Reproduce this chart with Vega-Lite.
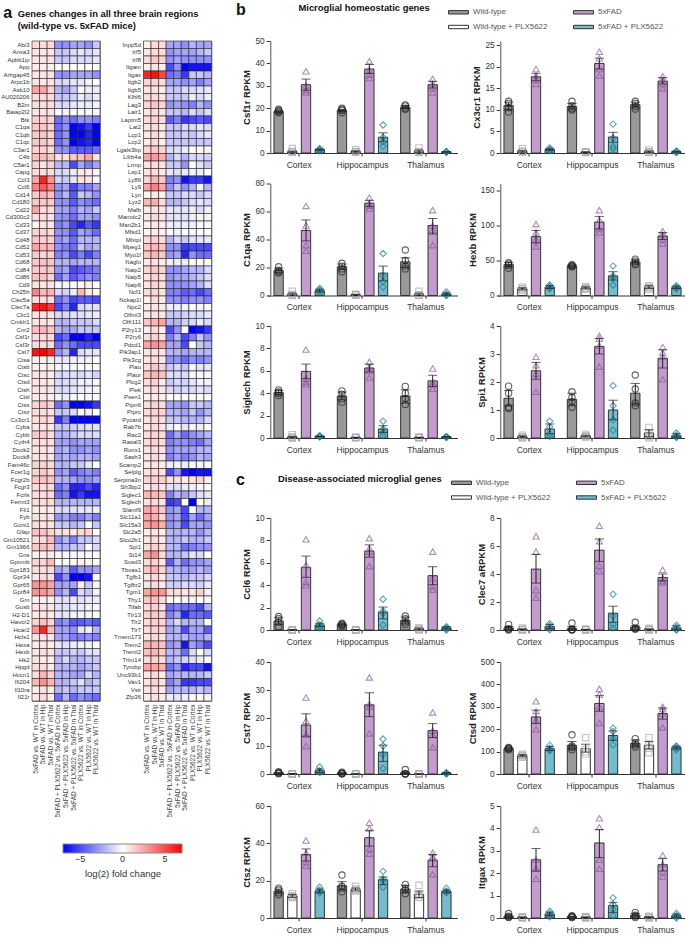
{"$schema":"https://vega.github.io/schema/vega-lite/v6.json","padding":{"left":0,"top":1,"right":0,"bottom":0},"background":"white",
"config":{"font":"Liberation Sans","view":{"stroke":null},"title":{"font":"Liberation Sans","fontWeight":"bold","fontSize":9.4,"color":"#111","anchor":"start"},
"axisX":{"grid":false,"labelAngle":0,"labelFontSize":8.5,"labelColor":"#333","domainColor":"#333","tickColor":"#333","tickSize":3,"labelPadding":4},
"axisY":{"grid":false,"labelFontSize":8.3,"labelColor":"#333","domainColor":"#888","domainWidth":1.5,"tickColor":"#333","tickSize":4,"labelPadding":2,"offset":-2.7,"titleFontSize":9.5,"titleFontWeight":"bold","titleColor":"#222","titlePadding":3},
"legend":{"orient":"none","legendX":180.5,"legendY":-39.5,"columns":2,"columnPadding":23,"rowPadding":-10,"labelFontSize":7.9,"labelColor":"#555","symbolType":"M-1,-0.17H1V0.17H-1Z","symbolSize":400,"symbolStrokeColor":"#333","symbolStrokeWidth":1,"labelOffset":4},
"scale":{"bandWithNestedOffsetPaddingInner":0.135,"bandWithNestedOffsetPaddingOuter":0.0675,"offsetBandPaddingInner":0.32,"offsetBandPaddingOuter":0.16},
"bar":{"stroke":"#333","strokeWidth":1},"point":{"size":40,"strokeWidth":1.1,"filled":false},"tick":{"color":"#222","bandSize":4,"thickness":1},"rule":{"color":"#222"},
"range":{"category":["#999999","#ffffff","#c39bcf","#72bccd"],"ordinal":["#222222","#aaaaaa","#8e5ca0","#1b7f94"],"symbol":["circle","square","triangle-up","diamond"]}},
"datasets":{
"h1":[{"g":"Abi3","c":1,"v":1},{"g":"Abi3","c":2,"v":1},{"g":"Abi3","c":3,"v":1},{"g":"Abi3","c":4,"v":-3},{"g":"Abi3","c":5,"v":-3},{"g":"Abi3","c":6,"v":-2.5},{"g":"Abi3","c":7,"v":-2.5},{"g":"Abi3","c":8,"v":-3},{"g":"Abi3","c":9,"v":-1.5},
{"g":"Anxa3","c":1,"v":0.7},{"g":"Anxa3","c":2,"v":0.7},{"g":"Anxa3","c":3,"v":0.7},{"g":"Anxa3","c":4,"v":-1.5},{"g":"Anxa3","c":5,"v":-1.5},{"g":"Anxa3","c":6,"v":-1},{"g":"Anxa3","c":7,"v":-0.7},{"g":"Anxa3","c":8,"v":-1},{"g":"Anxa3","c":9,"v":-0.7},
{"g":"Apbb1ip","c":1,"v":0.7},{"g":"Apbb1ip","c":2,"v":0.7},{"g":"Apbb1ip","c":3,"v":0.7},{"g":"Apbb1ip","c":4,"v":-1.5},{"g":"Apbb1ip","c":5,"v":-1.5},{"g":"Apbb1ip","c":6,"v":-1},{"g":"Apbb1ip","c":7,"v":-1},{"g":"Apbb1ip","c":8,"v":-1},{"g":"Apbb1ip","c":9,"v":-0.7},
{"g":"App","c":1,"v":0.5},{"g":"App","c":2,"v":0.5},{"g":"App","c":3,"v":0.4},{"g":"App","c":4,"v":-0.1},{"g":"App","c":5,"v":0.2},{"g":"App","c":6,"v":0},{"g":"App","c":7,"v":0},{"g":"App","c":8,"v":0},{"g":"App","c":9,"v":0},
{"g":"Arhgap45","c":1,"v":0.7},{"g":"Arhgap45","c":2,"v":0.7},{"g":"Arhgap45","c":3,"v":0.7},{"g":"Arhgap45","c":4,"v":-3},{"g":"Arhgap45","c":5,"v":-3},{"g":"Arhgap45","c":6,"v":-2.5},{"g":"Arhgap45","c":7,"v":-2.5},{"g":"Arhgap45","c":8,"v":-2.5},{"g":"Arhgap45","c":9,"v":-3},
{"g":"Arpc1b","c":1,"v":0.7},{"g":"Arpc1b","c":2,"v":0.6},{"g":"Arpc1b","c":3,"v":0.7},{"g":"Arpc1b","c":4,"v":-1},{"g":"Arpc1b","c":5,"v":-1},{"g":"Arpc1b","c":6,"v":-0.7},{"g":"Arpc1b","c":7,"v":-0.7},{"g":"Arpc1b","c":8,"v":-0.3},{"g":"Arpc1b","c":9,"v":0},
{"g":"Asb10","c":1,"v":2.5},{"g":"Asb10","c":2,"v":2.5},{"g":"Asb10","c":3,"v":1.2},{"g":"Asb10","c":4,"v":-2},{"g":"Asb10","c":5,"v":-2.5},{"g":"Asb10","c":6,"v":-1.5},{"g":"Asb10","c":7,"v":0},{"g":"Asb10","c":8,"v":-0.5},{"g":"Asb10","c":9,"v":-0.5},
{"g":"AU020206","c":1,"v":1},{"g":"AU020206","c":2,"v":1},{"g":"AU020206","c":3,"v":1},{"g":"AU020206","c":4,"v":-1.5},{"g":"AU020206","c":5,"v":-1.5},{"g":"AU020206","c":6,"v":-1.2},{"g":"AU020206","c":7,"v":-0.5},{"g":"AU020206","c":8,"v":-1},{"g":"AU020206","c":9,"v":-0.5},
{"g":"B2m","c":1,"v":0.9},{"g":"B2m","c":2,"v":0.9},{"g":"B2m","c":3,"v":0.9},{"g":"B2m","c":4,"v":-1},{"g":"B2m","c":5,"v":-1},{"g":"B2m","c":6,"v":-0.7},{"g":"B2m","c":7,"v":-0.5},{"g":"B2m","c":8,"v":-0.5},{"g":"B2m","c":9,"v":-0.3},
{"g":"Baiap2l2","c":1,"v":0.7},{"g":"Baiap2l2","c":2,"v":0.7},{"g":"Baiap2l2","c":3,"v":0.7},{"g":"Baiap2l2","c":4,"v":0},{"g":"Baiap2l2","c":5,"v":-0.3},{"g":"Baiap2l2","c":6,"v":-0.2},{"g":"Baiap2l2","c":7,"v":0.2},{"g":"Baiap2l2","c":8,"v":0.2},{"g":"Baiap2l2","c":9,"v":-0.2},
{"g":"Btk","c":1,"v":1.3},{"g":"Btk","c":2,"v":1.2},{"g":"Btk","c":3,"v":1.2},{"g":"Btk","c":4,"v":-4},{"g":"Btk","c":5,"v":-3},{"g":"Btk","c":6,"v":-4},{"g":"Btk","c":7,"v":-3},{"g":"Btk","c":8,"v":-3},{"g":"Btk","c":9,"v":-3.5},
{"g":"C1qa","c":1,"v":1.5},{"g":"C1qa","c":2,"v":1.5},{"g":"C1qa","c":3,"v":1.2},{"g":"C1qa","c":4,"v":-4},{"g":"C1qa","c":5,"v":-3},{"g":"C1qa","c":6,"v":-7},{"g":"C1qa","c":7,"v":-6.5},{"g":"C1qa","c":8,"v":-5.5},{"g":"C1qa","c":9,"v":-7},
{"g":"C1qb","c":1,"v":1.5},{"g":"C1qb","c":2,"v":1.5},{"g":"C1qb","c":3,"v":1.2},{"g":"C1qb","c":4,"v":-4},{"g":"C1qb","c":5,"v":-3},{"g":"C1qb","c":6,"v":-7},{"g":"C1qb","c":7,"v":-7},{"g":"C1qb","c":8,"v":-6},{"g":"C1qb","c":9,"v":-7},
{"g":"C1qc","c":1,"v":1.5},{"g":"C1qc","c":2,"v":1.5},{"g":"C1qc","c":3,"v":1.2},{"g":"C1qc","c":4,"v":-4},{"g":"C1qc","c":5,"v":-3},{"g":"C1qc","c":6,"v":-7},{"g":"C1qc","c":7,"v":-6.5},{"g":"C1qc","c":8,"v":-6},{"g":"C1qc","c":9,"v":-7},
{"g":"C3ar1","c":1,"v":1.2},{"g":"C3ar1","c":2,"v":1.2},{"g":"C3ar1","c":3,"v":1},{"g":"C3ar1","c":4,"v":-3},{"g":"C3ar1","c":5,"v":-3},{"g":"C3ar1","c":6,"v":-4.5},{"g":"C3ar1","c":7,"v":-4.5},{"g":"C3ar1","c":8,"v":-4.5},{"g":"C3ar1","c":9,"v":-4},
{"g":"C4b","c":1,"v":1.8},{"g":"C4b","c":2,"v":1.8},{"g":"C4b","c":3,"v":1.5},{"g":"C4b","c":4,"v":0.8},{"g":"C4b","c":5,"v":0.8},{"g":"C4b","c":6,"v":1.5},{"g":"C4b","c":7,"v":1.7},{"g":"C4b","c":8,"v":2.5},{"g":"C4b","c":9,"v":0.8},
{"g":"C5ar1","c":1,"v":1.2},{"g":"C5ar1","c":2,"v":0.8},{"g":"C5ar1","c":3,"v":1.2},{"g":"C5ar1","c":4,"v":-2},{"g":"C5ar1","c":5,"v":-2},{"g":"C5ar1","c":6,"v":-5},{"g":"C5ar1","c":7,"v":-2.5},{"g":"C5ar1","c":8,"v":-3.5},{"g":"C5ar1","c":9,"v":-2.5},
{"g":"Capg","c":1,"v":1},{"g":"Capg","c":2,"v":1},{"g":"Capg","c":3,"v":0.9},{"g":"Capg","c":4,"v":-1},{"g":"Capg","c":5,"v":-1},{"g":"Capg","c":6,"v":-0.5},{"g":"Capg","c":7,"v":0.5},{"g":"Capg","c":8,"v":0.5},{"g":"Capg","c":9,"v":-0.3},
{"g":"Ccl3","c":1,"v":2.5},{"g":"Ccl3","c":2,"v":6},{"g":"Ccl3","c":3,"v":3},{"g":"Ccl3","c":4,"v":-1.2},{"g":"Ccl3","c":5,"v":-1.5},{"g":"Ccl3","c":6,"v":-0.7},{"g":"Ccl3","c":7,"v":0.8},{"g":"Ccl3","c":8,"v":0.7},{"g":"Ccl3","c":9,"v":-0.2},
{"g":"Ccl6","c":1,"v":3.5},{"g":"Ccl6","c":2,"v":4.5},{"g":"Ccl6","c":3,"v":3.5},{"g":"Ccl6","c":4,"v":-3},{"g":"Ccl6","c":5,"v":-2.5},{"g":"Ccl6","c":6,"v":-5},{"g":"Ccl6","c":7,"v":-3.5},{"g":"Ccl6","c":8,"v":-3.5},{"g":"Ccl6","c":9,"v":-2.5},
{"g":"Cd14","c":1,"v":1.5},{"g":"Cd14","c":2,"v":2},{"g":"Cd14","c":3,"v":1.7},{"g":"Cd14","c":4,"v":-3},{"g":"Cd14","c":5,"v":-2},{"g":"Cd14","c":6,"v":-4.5},{"g":"Cd14","c":7,"v":-1.5},{"g":"Cd14","c":8,"v":-2},{"g":"Cd14","c":9,"v":-3},
{"g":"Cd180","c":1,"v":1.5},{"g":"Cd180","c":2,"v":1.5},{"g":"Cd180","c":3,"v":1.5},{"g":"Cd180","c":4,"v":-3},{"g":"Cd180","c":5,"v":-3},{"g":"Cd180","c":6,"v":-4.5},{"g":"Cd180","c":7,"v":-3},{"g":"Cd180","c":8,"v":-3.5},{"g":"Cd180","c":9,"v":-4},
{"g":"Cd22","c":1,"v":2.5},{"g":"Cd22","c":2,"v":1},{"g":"Cd22","c":3,"v":1},{"g":"Cd22","c":4,"v":-2.5},{"g":"Cd22","c":5,"v":-2.5},{"g":"Cd22","c":6,"v":-3.5},{"g":"Cd22","c":7,"v":-2},{"g":"Cd22","c":8,"v":-2.5},{"g":"Cd22","c":9,"v":-1.5},
{"g":"Cd300c2","c":1,"v":1},{"g":"Cd300c2","c":2,"v":1},{"g":"Cd300c2","c":3,"v":0.8},{"g":"Cd300c2","c":4,"v":-3},{"g":"Cd300c2","c":5,"v":-3},{"g":"Cd300c2","c":6,"v":-4},{"g":"Cd300c2","c":7,"v":-2.5},{"g":"Cd300c2","c":8,"v":-2.5},{"g":"Cd300c2","c":9,"v":-3},
{"g":"Cd33","c":1,"v":0.3},{"g":"Cd33","c":2,"v":0.8},{"g":"Cd33","c":3,"v":0.7},{"g":"Cd33","c":4,"v":-3.5},{"g":"Cd33","c":5,"v":-3},{"g":"Cd33","c":6,"v":-5},{"g":"Cd33","c":7,"v":-6},{"g":"Cd33","c":8,"v":-4.5},{"g":"Cd33","c":9,"v":-5.5},
{"g":"Cd37","c":1,"v":1.2},{"g":"Cd37","c":2,"v":1.2},{"g":"Cd37","c":3,"v":1},{"g":"Cd37","c":4,"v":-3},{"g":"Cd37","c":5,"v":-3},{"g":"Cd37","c":6,"v":-4.5},{"g":"Cd37","c":7,"v":-2.5},{"g":"Cd37","c":8,"v":-3},{"g":"Cd37","c":9,"v":-4},
{"g":"Cd48","c":1,"v":1.5},{"g":"Cd48","c":2,"v":1.3},{"g":"Cd48","c":3,"v":1.2},{"g":"Cd48","c":4,"v":-3},{"g":"Cd48","c":5,"v":-2.5},{"g":"Cd48","c":6,"v":-4},{"g":"Cd48","c":7,"v":-2},{"g":"Cd48","c":8,"v":-2},{"g":"Cd48","c":9,"v":-2},
{"g":"Cd52","c":1,"v":2.5},{"g":"Cd52","c":2,"v":2},{"g":"Cd52","c":3,"v":2},{"g":"Cd52","c":4,"v":-3},{"g":"Cd52","c":5,"v":-3.5},{"g":"Cd52","c":6,"v":-4},{"g":"Cd52","c":7,"v":-1.5},{"g":"Cd52","c":8,"v":-2.5},{"g":"Cd52","c":9,"v":-2},
{"g":"Cd53","c":1,"v":1.5},{"g":"Cd53","c":2,"v":1.2},{"g":"Cd53","c":3,"v":1.2},{"g":"Cd53","c":4,"v":-3.5},{"g":"Cd53","c":5,"v":-3},{"g":"Cd53","c":6,"v":-5},{"g":"Cd53","c":7,"v":-3.5},{"g":"Cd53","c":8,"v":-5},{"g":"Cd53","c":9,"v":-3.5},
{"g":"Cd68","c":1,"v":1.5},{"g":"Cd68","c":2,"v":1.7},{"g":"Cd68","c":3,"v":1.5},{"g":"Cd68","c":4,"v":-2},{"g":"Cd68","c":5,"v":-2},{"g":"Cd68","c":6,"v":-2.5},{"g":"Cd68","c":7,"v":-2},{"g":"Cd68","c":8,"v":-2},{"g":"Cd68","c":9,"v":-2},
{"g":"Cd84","c":1,"v":1.5},{"g":"Cd84","c":2,"v":1.5},{"g":"Cd84","c":3,"v":1.5},{"g":"Cd84","c":4,"v":-3},{"g":"Cd84","c":5,"v":-2.5},{"g":"Cd84","c":6,"v":-5},{"g":"Cd84","c":7,"v":-4.5},{"g":"Cd84","c":8,"v":-4},{"g":"Cd84","c":9,"v":-3.5},
{"g":"Cd86","c":1,"v":1.7},{"g":"Cd86","c":2,"v":1.7},{"g":"Cd86","c":3,"v":1.2},{"g":"Cd86","c":4,"v":-4},{"g":"Cd86","c":5,"v":-2.5},{"g":"Cd86","c":6,"v":-4.5},{"g":"Cd86","c":7,"v":-3.5},{"g":"Cd86","c":8,"v":-3},{"g":"Cd86","c":9,"v":-3.5},
{"g":"Cd9","c":1,"v":0.8},{"g":"Cd9","c":2,"v":0.7},{"g":"Cd9","c":3,"v":0.7},{"g":"Cd9","c":4,"v":-0.2},{"g":"Cd9","c":5,"v":-0.3},{"g":"Cd9","c":6,"v":-0.1},{"g":"Cd9","c":7,"v":0.1},{"g":"Cd9","c":8,"v":0.5},{"g":"Cd9","c":9,"v":0},
{"g":"Ch25h","c":1,"v":3.5},{"g":"Ch25h","c":2,"v":2},{"g":"Ch25h","c":3,"v":2},{"g":"Ch25h","c":4,"v":-1},{"g":"Ch25h","c":5,"v":-1.2},{"g":"Ch25h","c":6,"v":-0.5},{"g":"Ch25h","c":7,"v":2},{"g":"Ch25h","c":8,"v":0.5},{"g":"Ch25h","c":9,"v":0.2},
{"g":"Clec5a","c":1,"v":1},{"g":"Clec5a","c":2,"v":1},{"g":"Clec5a","c":3,"v":1},{"g":"Clec5a","c":4,"v":-4},{"g":"Clec5a","c":5,"v":-3},{"g":"Clec5a","c":6,"v":-5},{"g":"Clec5a","c":7,"v":-4.5},{"g":"Clec5a","c":8,"v":-4.5},{"g":"Clec5a","c":9,"v":-5},
{"g":"Clec7a","c":1,"v":6},{"g":"Clec7a","c":2,"v":6.5},{"g":"Clec7a","c":3,"v":5.5},{"g":"Clec7a","c":4,"v":-5},{"g":"Clec7a","c":5,"v":-3.5},{"g":"Clec7a","c":6,"v":-6},{"g":"Clec7a","c":7,"v":-1},{"g":"Clec7a","c":8,"v":-0.8},{"g":"Clec7a","c":9,"v":-0.8},
{"g":"Clic1","c":1,"v":0.8},{"g":"Clic1","c":2,"v":0.8},{"g":"Clic1","c":3,"v":0.7},{"g":"Clic1","c":4,"v":-1},{"g":"Clic1","c":5,"v":-1},{"g":"Clic1","c":6,"v":-0.8},{"g":"Clic1","c":7,"v":-0.8},{"g":"Clic1","c":8,"v":-0.6},{"g":"Clic1","c":9,"v":-0.5},
{"g":"Cmklr1","c":1,"v":0.8},{"g":"Cmklr1","c":2,"v":0.8},{"g":"Cmklr1","c":3,"v":0.7},{"g":"Cmklr1","c":4,"v":-2},{"g":"Cmklr1","c":5,"v":-2},{"g":"Cmklr1","c":6,"v":-1.5},{"g":"Cmklr1","c":7,"v":-1.5},{"g":"Cmklr1","c":8,"v":-1.5},{"g":"Cmklr1","c":9,"v":-1},
{"g":"Cnr2","c":1,"v":1.8},{"g":"Cnr2","c":2,"v":2},{"g":"Cnr2","c":3,"v":1.5},{"g":"Cnr2","c":4,"v":-2},{"g":"Cnr2","c":5,"v":-2.5},{"g":"Cnr2","c":6,"v":-2.5},{"g":"Cnr2","c":7,"v":-1.5},{"g":"Cnr2","c":8,"v":-1.5},{"g":"Cnr2","c":9,"v":-1.5},
{"g":"Csf1r","c":1,"v":1},{"g":"Csf1r","c":2,"v":1},{"g":"Csf1r","c":3,"v":1},{"g":"Csf1r","c":4,"v":-5},{"g":"Csf1r","c":5,"v":-4},{"g":"Csf1r","c":6,"v":-7},{"g":"Csf1r","c":7,"v":-7},{"g":"Csf1r","c":8,"v":-6},{"g":"Csf1r","c":9,"v":-7},
{"g":"Csf3r","c":1,"v":1},{"g":"Csf3r","c":2,"v":1},{"g":"Csf3r","c":3,"v":1},{"g":"Csf3r","c":4,"v":-4},{"g":"Csf3r","c":5,"v":-3},{"g":"Csf3r","c":6,"v":-4},{"g":"Csf3r","c":7,"v":-5},{"g":"Csf3r","c":8,"v":-5},{"g":"Csf3r","c":9,"v":-5},
{"g":"Cst7","c":1,"v":6.5},{"g":"Cst7","c":2,"v":7},{"g":"Cst7","c":3,"v":6},{"g":"Cst7","c":4,"v":-3},{"g":"Cst7","c":5,"v":-2},{"g":"Cst7","c":6,"v":-6},{"g":"Cst7","c":7,"v":-1},{"g":"Cst7","c":8,"v":-0.7},{"g":"Cst7","c":9,"v":-0.7},
{"g":"Ctsa","c":1,"v":0.5},{"g":"Ctsa","c":2,"v":0.4},{"g":"Ctsa","c":3,"v":0.5},{"g":"Ctsa","c":4,"v":-0.6},{"g":"Ctsa","c":5,"v":-0.6},{"g":"Ctsa","c":6,"v":-0.4},{"g":"Ctsa","c":7,"v":-0.3},{"g":"Ctsa","c":8,"v":-0.3},{"g":"Ctsa","c":9,"v":0},
{"g":"Ctsb","c":1,"v":0.4},{"g":"Ctsb","c":2,"v":0.3},{"g":"Ctsb","c":3,"v":0.3},{"g":"Ctsb","c":4,"v":-0.2},{"g":"Ctsb","c":5,"v":-0.2},{"g":"Ctsb","c":6,"v":-0.2},{"g":"Ctsb","c":7,"v":0},{"g":"Ctsb","c":8,"v":0},{"g":"Ctsb","c":9,"v":0.1},
{"g":"Ctsc","c":1,"v":0.8},{"g":"Ctsc","c":2,"v":0.7},{"g":"Ctsc","c":3,"v":0.5},{"g":"Ctsc","c":4,"v":-1},{"g":"Ctsc","c":5,"v":-1},{"g":"Ctsc","c":6,"v":-0.8},{"g":"Ctsc","c":7,"v":-1},{"g":"Ctsc","c":8,"v":-0.7},{"g":"Ctsc","c":9,"v":-1.2},
{"g":"Ctsd","c":1,"v":0.8},{"g":"Ctsd","c":2,"v":0.7},{"g":"Ctsd","c":3,"v":0.6},{"g":"Ctsd","c":4,"v":-1},{"g":"Ctsd","c":5,"v":-1},{"g":"Ctsd","c":6,"v":-0.8},{"g":"Ctsd","c":7,"v":-0.4},{"g":"Ctsd","c":8,"v":-0.4},{"g":"Ctsd","c":9,"v":-0.2},
{"g":"Ctsh","c":1,"v":0.8},{"g":"Ctsh","c":2,"v":0.7},{"g":"Ctsh","c":3,"v":0.7},{"g":"Ctsh","c":4,"v":-1},{"g":"Ctsh","c":5,"v":-1},{"g":"Ctsh","c":6,"v":-0.7},{"g":"Ctsh","c":7,"v":-0.4},{"g":"Ctsh","c":8,"v":-0.3},{"g":"Ctsh","c":9,"v":-0.3},
{"g":"Ctsl","c":1,"v":0.5},{"g":"Ctsl","c":2,"v":0.5},{"g":"Ctsl","c":3,"v":0.4},{"g":"Ctsl","c":4,"v":-0.3},{"g":"Ctsl","c":5,"v":-0.5},{"g":"Ctsl","c":6,"v":-0.2},{"g":"Ctsl","c":7,"v":0},{"g":"Ctsl","c":8,"v":-0.2},{"g":"Ctsl","c":9,"v":0},
{"g":"Ctss","c":1,"v":1.2},{"g":"Ctss","c":2,"v":1.5},{"g":"Ctss","c":3,"v":1.2},{"g":"Ctss","c":4,"v":-4},{"g":"Ctss","c":5,"v":-3},{"g":"Ctss","c":6,"v":-7},{"g":"Ctss","c":7,"v":-7},{"g":"Ctss","c":8,"v":-6.5},{"g":"Ctss","c":9,"v":-5.5},
{"g":"Ctsz","c":1,"v":1},{"g":"Ctsz","c":2,"v":1},{"g":"Ctsz","c":3,"v":0.8},{"g":"Ctsz","c":4,"v":-1.5},{"g":"Ctsz","c":5,"v":-1.5},{"g":"Ctsz","c":6,"v":-1},{"g":"Ctsz","c":7,"v":-0.3},{"g":"Ctsz","c":8,"v":-0.5},{"g":"Ctsz","c":9,"v":0},
{"g":"Cx3cr1","c":1,"v":0.9},{"g":"Cx3cr1","c":2,"v":1.2},{"g":"Cx3cr1","c":3,"v":1},{"g":"Cx3cr1","c":4,"v":-5.5},{"g":"Cx3cr1","c":5,"v":-3.5},{"g":"Cx3cr1","c":6,"v":-7},{"g":"Cx3cr1","c":7,"v":-7},{"g":"Cx3cr1","c":8,"v":-7},{"g":"Cx3cr1","c":9,"v":-7},
{"g":"Cyba","c":1,"v":0.7},{"g":"Cyba","c":2,"v":0.7},{"g":"Cyba","c":3,"v":0.6},{"g":"Cyba","c":4,"v":-1.5},{"g":"Cyba","c":5,"v":-1.5},{"g":"Cyba","c":6,"v":-1.2},{"g":"Cyba","c":7,"v":-1},{"g":"Cyba","c":8,"v":-0.8},{"g":"Cyba","c":9,"v":-0.8},
{"g":"Cybb","c":1,"v":1.5},{"g":"Cybb","c":2,"v":1.3},{"g":"Cybb","c":3,"v":0.9},{"g":"Cybb","c":4,"v":-2},{"g":"Cybb","c":5,"v":-2},{"g":"Cybb","c":6,"v":-1.5},{"g":"Cybb","c":7,"v":-1},{"g":"Cybb","c":8,"v":-1},{"g":"Cybb","c":9,"v":-1},
{"g":"Cyth4","c":1,"v":1},{"g":"Cyth4","c":2,"v":1},{"g":"Cyth4","c":3,"v":0.9},{"g":"Cyth4","c":4,"v":-2.5},{"g":"Cyth4","c":5,"v":-2.5},{"g":"Cyth4","c":6,"v":-3},{"g":"Cyth4","c":7,"v":-2.5},{"g":"Cyth4","c":8,"v":-2.5},{"g":"Cyth4","c":9,"v":-2.5},
{"g":"Dock2","c":1,"v":0.8},{"g":"Dock2","c":2,"v":0.8},{"g":"Dock2","c":3,"v":0.7},{"g":"Dock2","c":4,"v":-2.5},{"g":"Dock2","c":5,"v":-2},{"g":"Dock2","c":6,"v":-3},{"g":"Dock2","c":7,"v":-3},{"g":"Dock2","c":8,"v":-2.5},{"g":"Dock2","c":9,"v":-3},
{"g":"Dock8","c":1,"v":0.8},{"g":"Dock8","c":2,"v":0.8},{"g":"Dock8","c":3,"v":0.7},{"g":"Dock8","c":4,"v":-2.5},{"g":"Dock8","c":5,"v":-2},{"g":"Dock8","c":6,"v":-2.5},{"g":"Dock8","c":7,"v":-2},{"g":"Dock8","c":8,"v":-2},{"g":"Dock8","c":9,"v":-2.5},
{"g":"Fam46c","c":1,"v":1.2},{"g":"Fam46c","c":2,"v":1.3},{"g":"Fam46c","c":3,"v":1},{"g":"Fam46c","c":4,"v":-2},{"g":"Fam46c","c":5,"v":-2},{"g":"Fam46c","c":6,"v":-1.5},{"g":"Fam46c","c":7,"v":-1.5},{"g":"Fam46c","c":8,"v":-0.7},{"g":"Fam46c","c":9,"v":0},
{"g":"Fcer1g","c":1,"v":1.2},{"g":"Fcer1g","c":2,"v":1.5},{"g":"Fcer1g","c":3,"v":1.2},{"g":"Fcer1g","c":4,"v":-3},{"g":"Fcer1g","c":5,"v":-2.5},{"g":"Fcer1g","c":6,"v":-4.5},{"g":"Fcer1g","c":7,"v":-3.5},{"g":"Fcer1g","c":8,"v":-3},{"g":"Fcer1g","c":9,"v":-3.5},
{"g":"Fcgr2b","c":1,"v":1.5},{"g":"Fcgr2b","c":2,"v":1.7},{"g":"Fcgr2b","c":3,"v":1.5},{"g":"Fcgr2b","c":4,"v":-2},{"g":"Fcgr2b","c":5,"v":-2},{"g":"Fcgr2b","c":6,"v":-2.5},{"g":"Fcgr2b","c":7,"v":-3},{"g":"Fcgr2b","c":8,"v":-3},{"g":"Fcgr2b","c":9,"v":-2.5},
{"g":"Fcgr3","c":1,"v":1},{"g":"Fcgr3","c":2,"v":1},{"g":"Fcgr3","c":3,"v":1},{"g":"Fcgr3","c":4,"v":-4},{"g":"Fcgr3","c":5,"v":-3},{"g":"Fcgr3","c":6,"v":-6},{"g":"Fcgr3","c":7,"v":-6},{"g":"Fcgr3","c":8,"v":-5},{"g":"Fcgr3","c":9,"v":-6},
{"g":"Fcrls","c":1,"v":1},{"g":"Fcrls","c":2,"v":1},{"g":"Fcrls","c":3,"v":1},{"g":"Fcrls","c":4,"v":-4},{"g":"Fcrls","c":5,"v":-3.5},{"g":"Fcrls","c":6,"v":-6.5},{"g":"Fcrls","c":7,"v":-5.5},{"g":"Fcrls","c":8,"v":-6.5},{"g":"Fcrls","c":9,"v":-6.5},
{"g":"Fermt3","c":1,"v":1},{"g":"Fermt3","c":2,"v":1},{"g":"Fermt3","c":3,"v":0.9},{"g":"Fermt3","c":4,"v":-2},{"g":"Fermt3","c":5,"v":-2},{"g":"Fermt3","c":6,"v":-2},{"g":"Fermt3","c":7,"v":-2},{"g":"Fermt3","c":8,"v":-2},{"g":"Fermt3","c":9,"v":-2},
{"g":"Fli1","c":1,"v":0.5},{"g":"Fli1","c":2,"v":0.5},{"g":"Fli1","c":3,"v":0.5},{"g":"Fli1","c":4,"v":-1},{"g":"Fli1","c":5,"v":-1},{"g":"Fli1","c":6,"v":-0.8},{"g":"Fli1","c":7,"v":-0.7},{"g":"Fli1","c":8,"v":-0.7},{"g":"Fli1","c":9,"v":-0.5},
{"g":"Fyb","c":1,"v":0.8},{"g":"Fyb","c":2,"v":0.8},{"g":"Fyb","c":3,"v":0.7},{"g":"Fyb","c":4,"v":-3},{"g":"Fyb","c":5,"v":-2.5},{"g":"Fyb","c":6,"v":-3.5},{"g":"Fyb","c":7,"v":-3.5},{"g":"Fyb","c":8,"v":-2.5},{"g":"Fyb","c":9,"v":-3.5},
{"g":"Gcnt1","c":1,"v":1},{"g":"Gcnt1","c":2,"v":0.8},{"g":"Gcnt1","c":3,"v":0.8},{"g":"Gcnt1","c":4,"v":-1.5},{"g":"Gcnt1","c":5,"v":-1.5},{"g":"Gcnt1","c":6,"v":-2},{"g":"Gcnt1","c":7,"v":-1.5},{"g":"Gcnt1","c":8,"v":0},{"g":"Gcnt1","c":9,"v":-1.5},
{"g":"Gfap","c":1,"v":1.7},{"g":"Gfap","c":2,"v":1.7},{"g":"Gfap","c":3,"v":1.2},{"g":"Gfap","c":4,"v":0.8},{"g":"Gfap","c":5,"v":0.8},{"g":"Gfap","c":6,"v":0.6},{"g":"Gfap","c":7,"v":1},{"g":"Gfap","c":8,"v":1.2},{"g":"Gfap","c":9,"v":0},
{"g":"Gm10521","c":1,"v":1},{"g":"Gm10521","c":2,"v":1},{"g":"Gm10521","c":3,"v":1.8},{"g":"Gm10521","c":4,"v":-3},{"g":"Gm10521","c":5,"v":-2},{"g":"Gm10521","c":6,"v":-3.5},{"g":"Gm10521","c":7,"v":-1.5},{"g":"Gm10521","c":8,"v":-1.5},{"g":"Gm10521","c":9,"v":-1},
{"g":"Gm1966","c":1,"v":1.5},{"g":"Gm1966","c":2,"v":1.8},{"g":"Gm1966","c":3,"v":1.5},{"g":"Gm1966","c":4,"v":-2},{"g":"Gm1966","c":5,"v":-2},{"g":"Gm1966","c":6,"v":-1.5},{"g":"Gm1966","c":7,"v":-1.5},{"g":"Gm1966","c":8,"v":0},{"g":"Gm1966","c":9,"v":-1},
{"g":"Gns","c":1,"v":0.4},{"g":"Gns","c":2,"v":0.4},{"g":"Gns","c":3,"v":0.4},{"g":"Gns","c":4,"v":-0.2},{"g":"Gns","c":5,"v":-0.2},{"g":"Gns","c":6,"v":-0.2},{"g":"Gns","c":7,"v":-0.2},{"g":"Gns","c":8,"v":-0.1},{"g":"Gns","c":9,"v":0},
{"g":"Gpnmb","c":1,"v":1.2},{"g":"Gpnmb","c":2,"v":1.2},{"g":"Gpnmb","c":3,"v":1.8},{"g":"Gpnmb","c":4,"v":0},{"g":"Gpnmb","c":5,"v":-0.2},{"g":"Gpnmb","c":6,"v":0.2},{"g":"Gpnmb","c":7,"v":0.4},{"g":"Gpnmb","c":8,"v":0.2},{"g":"Gpnmb","c":9,"v":0.1},
{"g":"Gpr183","c":1,"v":1},{"g":"Gpr183","c":2,"v":1},{"g":"Gpr183","c":3,"v":1},{"g":"Gpr183","c":4,"v":-2.5},{"g":"Gpr183","c":5,"v":-2},{"g":"Gpr183","c":6,"v":-4.5},{"g":"Gpr183","c":7,"v":-3},{"g":"Gpr183","c":8,"v":-3},{"g":"Gpr183","c":9,"v":-2.5},
{"g":"Gpr34","c":1,"v":0.7},{"g":"Gpr34","c":2,"v":1},{"g":"Gpr34","c":3,"v":0.9},{"g":"Gpr34","c":4,"v":-5},{"g":"Gpr34","c":5,"v":-3},{"g":"Gpr34","c":6,"v":-7},{"g":"Gpr34","c":7,"v":-7},{"g":"Gpr34","c":8,"v":-6.5},{"g":"Gpr34","c":9,"v":0},
{"g":"Gpr65","c":1,"v":3},{"g":"Gpr65","c":2,"v":3},{"g":"Gpr65","c":3,"v":2.5},{"g":"Gpr65","c":4,"v":-2.5},{"g":"Gpr65","c":5,"v":-2.5},{"g":"Gpr65","c":6,"v":-2.5},{"g":"Gpr65","c":7,"v":0.5},{"g":"Gpr65","c":8,"v":-1.5},{"g":"Gpr65","c":9,"v":0.3},
{"g":"Gpr84","c":1,"v":3},{"g":"Gpr84","c":2,"v":3},{"g":"Gpr84","c":3,"v":2.5},{"g":"Gpr84","c":4,"v":-3},{"g":"Gpr84","c":5,"v":-2},{"g":"Gpr84","c":6,"v":-5},{"g":"Gpr84","c":7,"v":-1},{"g":"Gpr84","c":8,"v":-1.5},{"g":"Gpr84","c":9,"v":-0.3},
{"g":"Gm","c":1,"v":0.4},{"g":"Gm","c":2,"v":0.4},{"g":"Gm","c":3,"v":0.3},{"g":"Gm","c":4,"v":-0.8},{"g":"Gm","c":5,"v":-0.8},{"g":"Gm","c":6,"v":-0.6},{"g":"Gm","c":7,"v":-0.8},{"g":"Gm","c":8,"v":-0.6},{"g":"Gm","c":9,"v":-0.5},
{"g":"Gusb","c":1,"v":0.7},{"g":"Gusb","c":2,"v":0.7},{"g":"Gusb","c":3,"v":0.6},{"g":"Gusb","c":4,"v":-0.8},{"g":"Gusb","c":5,"v":-0.8},{"g":"Gusb","c":6,"v":-0.6},{"g":"Gusb","c":7,"v":-0.5},{"g":"Gusb","c":8,"v":-0.3},{"g":"Gusb","c":9,"v":-0.2},
{"g":"H2-D1","c":1,"v":0.6},{"g":"H2-D1","c":2,"v":0.7},{"g":"H2-D1","c":3,"v":0.6},{"g":"H2-D1","c":4,"v":-0.7},{"g":"H2-D1","c":5,"v":-0.7},{"g":"H2-D1","c":6,"v":-0.4},{"g":"H2-D1","c":7,"v":-0.3},{"g":"H2-D1","c":8,"v":-0.3},{"g":"H2-D1","c":9,"v":-0.1},
{"g":"Havcr2","c":1,"v":1.2},{"g":"Havcr2","c":2,"v":1.7},{"g":"Havcr2","c":3,"v":1.2},{"g":"Havcr2","c":4,"v":-3.5},{"g":"Havcr2","c":5,"v":-3},{"g":"Havcr2","c":6,"v":-4.5},{"g":"Havcr2","c":7,"v":-4.5},{"g":"Havcr2","c":8,"v":-4},{"g":"Havcr2","c":9,"v":-4.5},
{"g":"Hcar2","c":1,"v":3},{"g":"Hcar2","c":2,"v":6},{"g":"Hcar2","c":3,"v":1.8},{"g":"Hcar2","c":4,"v":-2.5},{"g":"Hcar2","c":5,"v":-2.5},{"g":"Hcar2","c":6,"v":-3},{"g":"Hcar2","c":7,"v":-0.7},{"g":"Hcar2","c":8,"v":-0.4},{"g":"Hcar2","c":9,"v":-2},
{"g":"Hcls1","c":1,"v":0.8},{"g":"Hcls1","c":2,"v":0.8},{"g":"Hcls1","c":3,"v":0.7},{"g":"Hcls1","c":4,"v":-2.5},{"g":"Hcls1","c":5,"v":-2.5},{"g":"Hcls1","c":6,"v":-3.5},{"g":"Hcls1","c":7,"v":-3.5},{"g":"Hcls1","c":8,"v":-3},{"g":"Hcls1","c":9,"v":-3.5},
{"g":"Hexa","c":1,"v":0.6},{"g":"Hexa","c":2,"v":0.7},{"g":"Hexa","c":3,"v":0.5},{"g":"Hexa","c":4,"v":-0.6},{"g":"Hexa","c":5,"v":-0.8},{"g":"Hexa","c":6,"v":-0.5},{"g":"Hexa","c":7,"v":-0.4},{"g":"Hexa","c":8,"v":-0.3},{"g":"Hexa","c":9,"v":-0.1},
{"g":"Hexb","c":1,"v":0.8},{"g":"Hexb","c":2,"v":1},{"g":"Hexb","c":3,"v":0.8},{"g":"Hexb","c":4,"v":-1.5},{"g":"Hexb","c":5,"v":-1.5},{"g":"Hexb","c":6,"v":-1.2},{"g":"Hexb","c":7,"v":-1.5},{"g":"Hexb","c":8,"v":-0.8},{"g":"Hexb","c":9,"v":-0.8},
{"g":"Hk2","c":1,"v":0.8},{"g":"Hk2","c":2,"v":0.6},{"g":"Hk2","c":3,"v":0.4},{"g":"Hk2","c":4,"v":-2},{"g":"Hk2","c":5,"v":-1},{"g":"Hk2","c":6,"v":-2},{"g":"Hk2","c":7,"v":-2},{"g":"Hk2","c":8,"v":-1.5},{"g":"Hk2","c":9,"v":-1.5},
{"g":"Hpgd","c":1,"v":1},{"g":"Hpgd","c":2,"v":1},{"g":"Hpgd","c":3,"v":0.5},{"g":"Hpgd","c":4,"v":-2},{"g":"Hpgd","c":5,"v":-2},{"g":"Hpgd","c":6,"v":-2},{"g":"Hpgd","c":7,"v":-2.5},{"g":"Hpgd","c":8,"v":-2},{"g":"Hpgd","c":9,"v":-1.5},
{"g":"Hvcn1","c":1,"v":1},{"g":"Hvcn1","c":2,"v":2},{"g":"Hvcn1","c":3,"v":1.2},{"g":"Hvcn1","c":4,"v":-2},{"g":"Hvcn1","c":5,"v":-2},{"g":"Hvcn1","c":6,"v":-2.5},{"g":"Hvcn1","c":7,"v":-2.5},{"g":"Hvcn1","c":8,"v":-1},{"g":"Hvcn1","c":9,"v":-2},
{"g":"Ifi204","c":1,"v":2},{"g":"Ifi204","c":2,"v":3},{"g":"Ifi204","c":3,"v":2},{"g":"Ifi204","c":4,"v":-2},{"g":"Ifi204","c":5,"v":-2},{"g":"Ifi204","c":6,"v":-1.5},{"g":"Ifi204","c":7,"v":-0.8},{"g":"Ifi204","c":8,"v":-2},{"g":"Ifi204","c":9,"v":-1.5},
{"g":"Il10ra","c":1,"v":0.5},{"g":"Il10ra","c":2,"v":0.8},{"g":"Il10ra","c":3,"v":0.5},{"g":"Il10ra","c":4,"v":-2},{"g":"Il10ra","c":5,"v":-1.5},{"g":"Il10ra","c":6,"v":-2},{"g":"Il10ra","c":7,"v":-1.5},{"g":"Il10ra","c":8,"v":-1.5},{"g":"Il10ra","c":9,"v":-1.5},
{"g":"Il21r","c":1,"v":0.7},{"g":"Il21r","c":2,"v":1},{"g":"Il21r","c":3,"v":0.5},{"g":"Il21r","c":4,"v":-4},{"g":"Il21r","c":5,"v":-2},{"g":"Il21r","c":6,"v":-4},{"g":"Il21r","c":7,"v":-3},{"g":"Il21r","c":8,"v":-3.5},{"g":"Il21r","c":9,"v":-4}],
"h2":[{"g":"Inpp5d","c":1,"v":0.5},{"g":"Inpp5d","c":2,"v":1},{"g":"Inpp5d","c":3,"v":1},{"g":"Inpp5d","c":4,"v":-2.5},{"g":"Inpp5d","c":5,"v":-2.5},{"g":"Inpp5d","c":6,"v":-3},{"g":"Inpp5d","c":7,"v":-2},{"g":"Inpp5d","c":8,"v":-2.5},{"g":"Inpp5d","c":9,"v":-2.5},
{"g":"Irf5","c":1,"v":0.7},{"g":"Irf5","c":2,"v":1},{"g":"Irf5","c":3,"v":1},{"g":"Irf5","c":4,"v":-3},{"g":"Irf5","c":5,"v":-2.5},{"g":"Irf5","c":6,"v":-2.5},{"g":"Irf5","c":7,"v":-2.5},{"g":"Irf5","c":8,"v":-2},{"g":"Irf5","c":9,"v":-1.5},
{"g":"Irf8","c":1,"v":1},{"g":"Irf8","c":2,"v":1.5},{"g":"Irf8","c":3,"v":1.2},{"g":"Irf8","c":4,"v":-3},{"g":"Irf8","c":5,"v":-2.5},{"g":"Irf8","c":6,"v":-3},{"g":"Irf8","c":7,"v":-3},{"g":"Irf8","c":8,"v":-3},{"g":"Irf8","c":9,"v":-3},
{"g":"Itgam","c":1,"v":0.5},{"g":"Itgam","c":2,"v":0.8},{"g":"Itgam","c":3,"v":0.5},{"g":"Itgam","c":4,"v":-5},{"g":"Itgam","c":5,"v":-3},{"g":"Itgam","c":6,"v":-7},{"g":"Itgam","c":7,"v":-6.5},{"g":"Itgam","c":8,"v":-6.5},{"g":"Itgam","c":9,"v":-6.5},
{"g":"Itgax","c":1,"v":6},{"g":"Itgax","c":2,"v":6.5},{"g":"Itgax","c":3,"v":5},{"g":"Itgax","c":4,"v":-4},{"g":"Itgax","c":5,"v":-3.5},{"g":"Itgax","c":6,"v":-5.5},{"g":"Itgax","c":7,"v":-1.5},{"g":"Itgax","c":8,"v":-1.5},{"g":"Itgax","c":9,"v":-2},
{"g":"Itgb2","c":1,"v":1.2},{"g":"Itgb2","c":2,"v":1.2},{"g":"Itgb2","c":3,"v":1},{"g":"Itgb2","c":4,"v":-2.5},{"g":"Itgb2","c":5,"v":-2.5},{"g":"Itgb2","c":6,"v":-3},{"g":"Itgb2","c":7,"v":-2.5},{"g":"Itgb2","c":8,"v":-3.5},{"g":"Itgb2","c":9,"v":-2.5},
{"g":"Itgb5","c":1,"v":0.8},{"g":"Itgb5","c":2,"v":0.8},{"g":"Itgb5","c":3,"v":0.5},{"g":"Itgb5","c":4,"v":-1.5},{"g":"Itgb5","c":5,"v":-1.5},{"g":"Itgb5","c":6,"v":-1},{"g":"Itgb5","c":7,"v":-1},{"g":"Itgb5","c":8,"v":-0.8},{"g":"Itgb5","c":9,"v":-0.6},
{"g":"Klhl6","c":1,"v":1},{"g":"Klhl6","c":2,"v":1},{"g":"Klhl6","c":3,"v":0.8},{"g":"Klhl6","c":4,"v":-1.5},{"g":"Klhl6","c":5,"v":-1.5},{"g":"Klhl6","c":6,"v":-1.5},{"g":"Klhl6","c":7,"v":-0.5},{"g":"Klhl6","c":8,"v":-1},{"g":"Klhl6","c":9,"v":-0.5},
{"g":"Lag3","c":1,"v":1.2},{"g":"Lag3","c":2,"v":1.5},{"g":"Lag3","c":3,"v":1.2},{"g":"Lag3","c":4,"v":-3},{"g":"Lag3","c":5,"v":-2.5},{"g":"Lag3","c":6,"v":-3},{"g":"Lag3","c":7,"v":-3.5},{"g":"Lag3","c":8,"v":-2},{"g":"Lag3","c":9,"v":-3},
{"g":"Lair1","c":1,"v":0.8},{"g":"Lair1","c":2,"v":1},{"g":"Lair1","c":3,"v":0.8},{"g":"Lair1","c":4,"v":-1.5},{"g":"Lair1","c":5,"v":-1.5},{"g":"Lair1","c":6,"v":-2},{"g":"Lair1","c":7,"v":-1},{"g":"Lair1","c":8,"v":-1.5},{"g":"Lair1","c":9,"v":-1},
{"g":"Laptm5","c":1,"v":1},{"g":"Laptm5","c":2,"v":1.2},{"g":"Laptm5","c":3,"v":1},{"g":"Laptm5","c":4,"v":-4.5},{"g":"Laptm5","c":5,"v":-3.5},{"g":"Laptm5","c":6,"v":-5.5},{"g":"Laptm5","c":7,"v":-5},{"g":"Laptm5","c":8,"v":-4.5},{"g":"Laptm5","c":9,"v":-5},
{"g":"Lat2","c":1,"v":0.7},{"g":"Lat2","c":2,"v":1},{"g":"Lat2","c":3,"v":0.6},{"g":"Lat2","c":4,"v":-1.5},{"g":"Lat2","c":5,"v":-1.5},{"g":"Lat2","c":6,"v":-1},{"g":"Lat2","c":7,"v":-1},{"g":"Lat2","c":8,"v":-0.6},{"g":"Lat2","c":9,"v":-1},
{"g":"Lcp1","c":1,"v":0.7},{"g":"Lcp1","c":2,"v":1},{"g":"Lcp1","c":3,"v":0.6},{"g":"Lcp1","c":4,"v":-1.5},{"g":"Lcp1","c":5,"v":-1.5},{"g":"Lcp1","c":6,"v":-1.2},{"g":"Lcp1","c":7,"v":-1.5},{"g":"Lcp1","c":8,"v":-1},{"g":"Lcp1","c":9,"v":-0.7},
{"g":"Lcp2","c":1,"v":0.6},{"g":"Lcp2","c":2,"v":1},{"g":"Lcp2","c":3,"v":0.5},{"g":"Lcp2","c":4,"v":-1.5},{"g":"Lcp2","c":5,"v":-1.5},{"g":"Lcp2","c":6,"v":-1.5},{"g":"Lcp2","c":7,"v":-1.5},{"g":"Lcp2","c":8,"v":-1.5},{"g":"Lcp2","c":9,"v":-1.5},
{"g":"Lgals3bp","c":1,"v":1.2},{"g":"Lgals3bp","c":2,"v":1.5},{"g":"Lgals3bp","c":3,"v":1.2},{"g":"Lgals3bp","c":4,"v":-1},{"g":"Lgals3bp","c":5,"v":-0.8},{"g":"Lgals3bp","c":6,"v":-0.5},{"g":"Lgals3bp","c":7,"v":0},{"g":"Lgals3bp","c":8,"v":0.1},{"g":"Lgals3bp","c":9,"v":0.3},
{"g":"Lilrb4a","c":1,"v":2.5},{"g":"Lilrb4a","c":2,"v":2.8},{"g":"Lilrb4a","c":3,"v":2.2},{"g":"Lilrb4a","c":4,"v":-2},{"g":"Lilrb4a","c":5,"v":-1},{"g":"Lilrb4a","c":6,"v":-2},{"g":"Lilrb4a","c":7,"v":-1},{"g":"Lilrb4a","c":8,"v":-1},{"g":"Lilrb4a","c":9,"v":-1.2},
{"g":"Lrmp","c":1,"v":0.8},{"g":"Lrmp","c":2,"v":1},{"g":"Lrmp","c":3,"v":0.8},{"g":"Lrmp","c":4,"v":-1.5},{"g":"Lrmp","c":5,"v":-1.5},{"g":"Lrmp","c":6,"v":-3},{"g":"Lrmp","c":7,"v":0},{"g":"Lrmp","c":8,"v":-0.8},{"g":"Lrmp","c":9,"v":-1.5},
{"g":"Lsp1","c":1,"v":0.8},{"g":"Lsp1","c":2,"v":1},{"g":"Lsp1","c":3,"v":0.7},{"g":"Lsp1","c":4,"v":-0.7},{"g":"Lsp1","c":5,"v":-0.8},{"g":"Lsp1","c":6,"v":-0.6},{"g":"Lsp1","c":7,"v":-0.3},{"g":"Lsp1","c":8,"v":-0.5},{"g":"Lsp1","c":9,"v":0},
{"g":"Ly86","c":1,"v":1.2},{"g":"Ly86","c":2,"v":2},{"g":"Ly86","c":3,"v":1.5},{"g":"Ly86","c":4,"v":-3.5},{"g":"Ly86","c":5,"v":-3},{"g":"Ly86","c":6,"v":-6.5},{"g":"Ly86","c":7,"v":-5.5},{"g":"Ly86","c":8,"v":-5.5},{"g":"Ly86","c":9,"v":-6.5},
{"g":"Ly9","c":1,"v":2.5},{"g":"Ly9","c":2,"v":3.5},{"g":"Ly9","c":3,"v":2.5},{"g":"Ly9","c":4,"v":-3},{"g":"Ly9","c":5,"v":-1.5},{"g":"Ly9","c":6,"v":-3},{"g":"Ly9","c":7,"v":-2},{"g":"Ly9","c":8,"v":-0.3},{"g":"Ly9","c":9,"v":-2},
{"g":"Lyn","c":1,"v":0.3},{"g":"Lyn","c":2,"v":0.5},{"g":"Lyn","c":3,"v":0.4},{"g":"Lyn","c":4,"v":-1.5},{"g":"Lyn","c":5,"v":-1.5},{"g":"Lyn","c":6,"v":-1},{"g":"Lyn","c":7,"v":-1},{"g":"Lyn","c":8,"v":-1.5},{"g":"Lyn","c":9,"v":-1},
{"g":"Lyz2","c":1,"v":2},{"g":"Lyz2","c":2,"v":2.2},{"g":"Lyz2","c":3,"v":1},{"g":"Lyz2","c":4,"v":-2},{"g":"Lyz2","c":5,"v":-2},{"g":"Lyz2","c":6,"v":-1.5},{"g":"Lyz2","c":7,"v":-1},{"g":"Lyz2","c":8,"v":-0.7},{"g":"Lyz2","c":9,"v":-1},
{"g":"Mafb","c":1,"v":0.6},{"g":"Mafb","c":2,"v":0.8},{"g":"Mafb","c":3,"v":0.7},{"g":"Mafb","c":4,"v":-0.7},{"g":"Mafb","c":5,"v":-0.7},{"g":"Mafb","c":6,"v":-0.7},{"g":"Mafb","c":7,"v":-0.5},{"g":"Mafb","c":8,"v":-1},{"g":"Mafb","c":9,"v":-0.4},
{"g":"Mamdc2","c":1,"v":0.7},{"g":"Mamdc2","c":2,"v":1},{"g":"Mamdc2","c":3,"v":0.8},{"g":"Mamdc2","c":4,"v":-0.8},{"g":"Mamdc2","c":5,"v":-0.7},{"g":"Mamdc2","c":6,"v":-0.8},{"g":"Mamdc2","c":7,"v":-0.4},{"g":"Mamdc2","c":8,"v":0.3},{"g":"Mamdc2","c":9,"v":0.3},
{"g":"Man2b1","c":1,"v":0.4},{"g":"Man2b1","c":2,"v":0.6},{"g":"Man2b1","c":3,"v":0.5},{"g":"Man2b1","c":4,"v":-0.5},{"g":"Man2b1","c":5,"v":-0.5},{"g":"Man2b1","c":6,"v":-0.4},{"g":"Man2b1","c":7,"v":-0.4},{"g":"Man2b1","c":8,"v":-0.2},{"g":"Man2b1","c":9,"v":-0.1},
{"g":"Mfsd1","c":1,"v":0.3},{"g":"Mfsd1","c":2,"v":0.5},{"g":"Mfsd1","c":3,"v":0.4},{"g":"Mfsd1","c":4,"v":-0.1},{"g":"Mfsd1","c":5,"v":-0.3},{"g":"Mfsd1","c":6,"v":0},{"g":"Mfsd1","c":7,"v":-0.1},{"g":"Mfsd1","c":8,"v":-0.1},{"g":"Mfsd1","c":9,"v":0},
{"g":"Mlxipl","c":1,"v":1},{"g":"Mlxipl","c":2,"v":1.2},{"g":"Mlxipl","c":3,"v":1},{"g":"Mlxipl","c":4,"v":-2},{"g":"Mlxipl","c":5,"v":-1},{"g":"Mlxipl","c":6,"v":-1.5},{"g":"Mlxipl","c":7,"v":-0.8},{"g":"Mlxipl","c":8,"v":-0.7},{"g":"Mlxipl","c":9,"v":-0.6},
{"g":"Mpeg1","c":1,"v":1.5},{"g":"Mpeg1","c":2,"v":2},{"g":"Mpeg1","c":3,"v":1.7},{"g":"Mpeg1","c":4,"v":-3},{"g":"Mpeg1","c":5,"v":-3},{"g":"Mpeg1","c":6,"v":-5.5},{"g":"Mpeg1","c":7,"v":-5},{"g":"Mpeg1","c":8,"v":-5},{"g":"Mpeg1","c":9,"v":-5},
{"g":"Myo1f","c":1,"v":1.5},{"g":"Myo1f","c":2,"v":2},{"g":"Myo1f","c":3,"v":1.5},{"g":"Myo1f","c":4,"v":-3},{"g":"Myo1f","c":5,"v":-2.5},{"g":"Myo1f","c":6,"v":-6},{"g":"Myo1f","c":7,"v":-3},{"g":"Myo1f","c":8,"v":-4},{"g":"Myo1f","c":9,"v":-4},
{"g":"Naglu","c":1,"v":0.6},{"g":"Naglu","c":2,"v":0.8},{"g":"Naglu","c":3,"v":0.5},{"g":"Naglu","c":4,"v":-0.5},{"g":"Naglu","c":5,"v":-0.5},{"g":"Naglu","c":6,"v":-0.5},{"g":"Naglu","c":7,"v":0},{"g":"Naglu","c":8,"v":-0.1},{"g":"Naglu","c":9,"v":0},
{"g":"Naip2","c":1,"v":1.2},{"g":"Naip2","c":2,"v":1.5},{"g":"Naip2","c":3,"v":1.2},{"g":"Naip2","c":4,"v":-3},{"g":"Naip2","c":5,"v":-3},{"g":"Naip2","c":6,"v":-2.5},{"g":"Naip2","c":7,"v":-2},{"g":"Naip2","c":8,"v":-2},{"g":"Naip2","c":9,"v":-1},
{"g":"Naip5","c":1,"v":0.8},{"g":"Naip5","c":2,"v":1.2},{"g":"Naip5","c":3,"v":0.9},{"g":"Naip5","c":4,"v":-3},{"g":"Naip5","c":5,"v":-2.5},{"g":"Naip5","c":6,"v":-2.5},{"g":"Naip5","c":7,"v":-2},{"g":"Naip5","c":8,"v":-1.5},{"g":"Naip5","c":9,"v":-1},
{"g":"Naip6","c":1,"v":0.8},{"g":"Naip6","c":2,"v":1.2},{"g":"Naip6","c":3,"v":0.9},{"g":"Naip6","c":4,"v":-3},{"g":"Naip6","c":5,"v":-3},{"g":"Naip6","c":6,"v":-3},{"g":"Naip6","c":7,"v":-2.5},{"g":"Naip6","c":8,"v":-2},{"g":"Naip6","c":9,"v":-1},
{"g":"Ncf1","c":1,"v":1},{"g":"Ncf1","c":2,"v":1.2},{"g":"Ncf1","c":3,"v":0.8},{"g":"Ncf1","c":4,"v":-3.5},{"g":"Ncf1","c":5,"v":-3.5},{"g":"Ncf1","c":6,"v":-4.5},{"g":"Ncf1","c":7,"v":-4},{"g":"Ncf1","c":8,"v":-5},{"g":"Ncf1","c":9,"v":-4},
{"g":"Nckap1l","c":1,"v":0.4},{"g":"Nckap1l","c":2,"v":1},{"g":"Nckap1l","c":3,"v":0.6},{"g":"Nckap1l","c":4,"v":-3},{"g":"Nckap1l","c":5,"v":-3},{"g":"Nckap1l","c":6,"v":-3.5},{"g":"Nckap1l","c":7,"v":-3},{"g":"Nckap1l","c":8,"v":-3},{"g":"Nckap1l","c":9,"v":-3.5},
{"g":"Npc2","c":1,"v":0.6},{"g":"Npc2","c":2,"v":0.7},{"g":"Npc2","c":3,"v":0.5},{"g":"Npc2","c":4,"v":-0.5},{"g":"Npc2","c":5,"v":-0.5},{"g":"Npc2","c":6,"v":-0.3},{"g":"Npc2","c":7,"v":-0.1},{"g":"Npc2","c":8,"v":-0.3},{"g":"Npc2","c":9,"v":0.1},
{"g":"Olfml3","c":1,"v":0.6},{"g":"Olfml3","c":2,"v":0.8},{"g":"Olfml3","c":3,"v":0.6},{"g":"Olfml3","c":4,"v":-1.5},{"g":"Olfml3","c":5,"v":-1.5},{"g":"Olfml3","c":6,"v":-1.2},{"g":"Olfml3","c":7,"v":-1},{"g":"Olfml3","c":8,"v":-1},{"g":"Olfml3","c":9,"v":-0.7},
{"g":"Olfr111","c":1,"v":1.5},{"g":"Olfr111","c":2,"v":2},{"g":"Olfr111","c":3,"v":2.5},{"g":"Olfr111","c":4,"v":-2},{"g":"Olfr111","c":5,"v":-2},{"g":"Olfr111","c":6,"v":-1.2},{"g":"Olfr111","c":7,"v":-1},{"g":"Olfr111","c":8,"v":-0.5},{"g":"Olfr111","c":9,"v":-1},
{"g":"P2ry13","c":1,"v":0.5},{"g":"P2ry13","c":2,"v":1},{"g":"P2ry13","c":3,"v":0.5},{"g":"P2ry13","c":4,"v":-5},{"g":"P2ry13","c":5,"v":-3},{"g":"P2ry13","c":6,"v":0},{"g":"P2ry13","c":7,"v":-7},{"g":"P2ry13","c":8,"v":-6.5},{"g":"P2ry13","c":9,"v":-5.5},
{"g":"P2ry6","c":1,"v":0.9},{"g":"P2ry6","c":2,"v":1.2},{"g":"P2ry6","c":3,"v":0.8},{"g":"P2ry6","c":4,"v":-3.5},{"g":"P2ry6","c":5,"v":-2},{"g":"P2ry6","c":6,"v":-5},{"g":"P2ry6","c":7,"v":-3.5},{"g":"P2ry6","c":8,"v":-1.5},{"g":"P2ry6","c":9,"v":-3},
{"g":"Pdcd1","c":1,"v":2.5},{"g":"Pdcd1","c":2,"v":3},{"g":"Pdcd1","c":3,"v":2.5},{"g":"Pdcd1","c":4,"v":-2.5},{"g":"Pdcd1","c":5,"v":-2.5},{"g":"Pdcd1","c":6,"v":-5},{"g":"Pdcd1","c":7,"v":0},{"g":"Pdcd1","c":8,"v":-1.5},{"g":"Pdcd1","c":9,"v":-2},
{"g":"Pik3ap1","c":1,"v":0.7},{"g":"Pik3ap1","c":2,"v":0.8},{"g":"Pik3ap1","c":3,"v":0.7},{"g":"Pik3ap1","c":4,"v":-2},{"g":"Pik3ap1","c":5,"v":-2},{"g":"Pik3ap1","c":6,"v":-2.5},{"g":"Pik3ap1","c":7,"v":-2},{"g":"Pik3ap1","c":8,"v":-2},{"g":"Pik3ap1","c":9,"v":-2},
{"g":"Pik3cg","c":1,"v":0.7},{"g":"Pik3cg","c":2,"v":1},{"g":"Pik3cg","c":3,"v":0.7},{"g":"Pik3cg","c":4,"v":-3},{"g":"Pik3cg","c":5,"v":-3},{"g":"Pik3cg","c":6,"v":-4},{"g":"Pik3cg","c":7,"v":-3},{"g":"Pik3cg","c":8,"v":-3.5},{"g":"Pik3cg","c":9,"v":-3},
{"g":"Plau","c":1,"v":1},{"g":"Plau","c":2,"v":1.5},{"g":"Plau","c":3,"v":1.2},{"g":"Plau","c":4,"v":-1.5},{"g":"Plau","c":5,"v":-1},{"g":"Plau","c":6,"v":-1.5},{"g":"Plau","c":7,"v":-0.2},{"g":"Plau","c":8,"v":-0.7},{"g":"Plau","c":9,"v":-0.7},
{"g":"Plaur","c":1,"v":1.5},{"g":"Plaur","c":2,"v":2},{"g":"Plaur","c":3,"v":1.7},{"g":"Plaur","c":4,"v":-0.9},{"g":"Plaur","c":5,"v":-0.9},{"g":"Plaur","c":6,"v":-1},{"g":"Plaur","c":7,"v":-0.2},{"g":"Plaur","c":8,"v":0.2},{"g":"Plaur","c":9,"v":-0.2},
{"g":"Plcg2","c":1,"v":1},{"g":"Plcg2","c":2,"v":1.2},{"g":"Plcg2","c":3,"v":0.5},{"g":"Plcg2","c":4,"v":-1.5},{"g":"Plcg2","c":5,"v":-1},{"g":"Plcg2","c":6,"v":-1.2},{"g":"Plcg2","c":7,"v":-0.7},{"g":"Plcg2","c":8,"v":-0.3},{"g":"Plcg2","c":9,"v":-0.3},
{"g":"Plek","c":1,"v":0.8},{"g":"Plek","c":2,"v":1},{"g":"Plek","c":3,"v":0.7},{"g":"Plek","c":4,"v":-1},{"g":"Plek","c":5,"v":-1.2},{"g":"Plek","c":6,"v":-1},{"g":"Plek","c":7,"v":-1},{"g":"Plek","c":8,"v":-0.7},{"g":"Plek","c":9,"v":-1},
{"g":"Psen1","c":1,"v":0.4},{"g":"Psen1","c":2,"v":0.5},{"g":"Psen1","c":3,"v":0.4},{"g":"Psen1","c":4,"v":0},{"g":"Psen1","c":5,"v":0.1},{"g":"Psen1","c":6,"v":0},{"g":"Psen1","c":7,"v":0},{"g":"Psen1","c":8,"v":0},{"g":"Psen1","c":9,"v":-0.1},
{"g":"Ptpn6","c":1,"v":1},{"g":"Ptpn6","c":2,"v":1.2},{"g":"Ptpn6","c":3,"v":1},{"g":"Ptpn6","c":4,"v":-2.5},{"g":"Ptpn6","c":5,"v":-2.5},{"g":"Ptpn6","c":6,"v":-3},{"g":"Ptpn6","c":7,"v":-1.5},{"g":"Ptpn6","c":8,"v":-1.5},{"g":"Ptpn6","c":9,"v":-2},
{"g":"Ptprc","c":1,"v":1},{"g":"Ptprc","c":2,"v":1.2},{"g":"Ptprc","c":3,"v":1.2},{"g":"Ptprc","c":4,"v":-2},{"g":"Ptprc","c":5,"v":-2},{"g":"Ptprc","c":6,"v":-2.5},{"g":"Ptprc","c":7,"v":-1.5},{"g":"Ptprc","c":8,"v":-3},{"g":"Ptprc","c":9,"v":-2},
{"g":"Pycard","c":1,"v":0.8},{"g":"Pycard","c":2,"v":1},{"g":"Pycard","c":3,"v":1},{"g":"Pycard","c":4,"v":-1.5},{"g":"Pycard","c":5,"v":-1.5},{"g":"Pycard","c":6,"v":-2},{"g":"Pycard","c":7,"v":-2},{"g":"Pycard","c":8,"v":-2},{"g":"Pycard","c":9,"v":-1},
{"g":"Rab7b","c":1,"v":0.7},{"g":"Rab7b","c":2,"v":1},{"g":"Rab7b","c":3,"v":0.7},{"g":"Rab7b","c":4,"v":-0.5},{"g":"Rab7b","c":5,"v":0},{"g":"Rab7b","c":6,"v":-0.7},{"g":"Rab7b","c":7,"v":-0.3},{"g":"Rab7b","c":8,"v":-0.5},{"g":"Rab7b","c":9,"v":0},
{"g":"Rac2","c":1,"v":1},{"g":"Rac2","c":2,"v":1.2},{"g":"Rac2","c":3,"v":1},{"g":"Rac2","c":4,"v":-4},{"g":"Rac2","c":5,"v":-2.5},{"g":"Rac2","c":6,"v":-4},{"g":"Rac2","c":7,"v":-3},{"g":"Rac2","c":8,"v":-2.5},{"g":"Rac2","c":9,"v":-2},
{"g":"Rasal3","c":1,"v":1},{"g":"Rasal3","c":2,"v":1.2},{"g":"Rasal3","c":3,"v":1},{"g":"Rasal3","c":4,"v":-3.5},{"g":"Rasal3","c":5,"v":-3},{"g":"Rasal3","c":6,"v":-3},{"g":"Rasal3","c":7,"v":-3.5},{"g":"Rasal3","c":8,"v":-4},{"g":"Rasal3","c":9,"v":-2.5},
{"g":"Runx1","c":1,"v":0.8},{"g":"Runx1","c":2,"v":1},{"g":"Runx1","c":3,"v":0.8},{"g":"Runx1","c":4,"v":-3},{"g":"Runx1","c":5,"v":-2.5},{"g":"Runx1","c":6,"v":-2.5},{"g":"Runx1","c":7,"v":-2.5},{"g":"Runx1","c":8,"v":-2},{"g":"Runx1","c":9,"v":-2},
{"g":"Sash3","c":1,"v":0.8},{"g":"Sash3","c":2,"v":1},{"g":"Sash3","c":3,"v":0.8},{"g":"Sash3","c":4,"v":-3.5},{"g":"Sash3","c":5,"v":-2.5},{"g":"Sash3","c":6,"v":-3.5},{"g":"Sash3","c":7,"v":-3},{"g":"Sash3","c":8,"v":-2},{"g":"Sash3","c":9,"v":-2.5},
{"g":"Scamp2","c":1,"v":0.6},{"g":"Scamp2","c":2,"v":0.7},{"g":"Scamp2","c":3,"v":0.4},{"g":"Scamp2","c":4,"v":-0.5},{"g":"Scamp2","c":5,"v":-0.3},{"g":"Scamp2","c":6,"v":-0.5},{"g":"Scamp2","c":7,"v":-0.1},{"g":"Scamp2","c":8,"v":-0.1},{"g":"Scamp2","c":9,"v":0},
{"g":"Selplg","c":1,"v":0.8},{"g":"Selplg","c":2,"v":1},{"g":"Selplg","c":3,"v":0.8},{"g":"Selplg","c":4,"v":-5},{"g":"Selplg","c":5,"v":-3},{"g":"Selplg","c":6,"v":-6.5},{"g":"Selplg","c":7,"v":-7},{"g":"Selplg","c":8,"v":-6.5},{"g":"Selplg","c":9,"v":-6.5},
{"g":"Serpina3n","c":1,"v":1.2},{"g":"Serpina3n","c":2,"v":1.3},{"g":"Serpina3n","c":3,"v":1.2},{"g":"Serpina3n","c":4,"v":0.9},{"g":"Serpina3n","c":5,"v":0.9},{"g":"Serpina3n","c":6,"v":0.5},{"g":"Serpina3n","c":7,"v":0.8},{"g":"Serpina3n","c":8,"v":1.2},{"g":"Serpina3n","c":9,"v":0.4},
{"g":"Sh3bp2","c":1,"v":0.7},{"g":"Sh3bp2","c":2,"v":1},{"g":"Sh3bp2","c":3,"v":0.7},{"g":"Sh3bp2","c":4,"v":-0.8},{"g":"Sh3bp2","c":5,"v":-0.8},{"g":"Sh3bp2","c":6,"v":-0.6},{"g":"Sh3bp2","c":7,"v":-0.4},{"g":"Sh3bp2","c":8,"v":-0.2},{"g":"Sh3bp2","c":9,"v":0},
{"g":"Siglec1","c":1,"v":2},{"g":"Siglec1","c":2,"v":2},{"g":"Siglec1","c":3,"v":1.5},{"g":"Siglec1","c":4,"v":-3.5},{"g":"Siglec1","c":5,"v":-2},{"g":"Siglec1","c":6,"v":-2.5},{"g":"Siglec1","c":7,"v":-1.5},{"g":"Siglec1","c":8,"v":-0.8},{"g":"Siglec1","c":9,"v":-0.7},
{"g":"Siglech","c":1,"v":0.8},{"g":"Siglech","c":2,"v":1},{"g":"Siglech","c":3,"v":0.7},{"g":"Siglech","c":4,"v":-5.5},{"g":"Siglech","c":5,"v":-5},{"g":"Siglech","c":6,"v":0},{"g":"Siglech","c":7,"v":-7},{"g":"Siglech","c":8,"v":0},{"g":"Siglech","c":9,"v":-0.5},
{"g":"Slamf9","c":1,"v":2.5},{"g":"Slamf9","c":2,"v":2},{"g":"Slamf9","c":3,"v":1.5},{"g":"Slamf9","c":4,"v":-3},{"g":"Slamf9","c":5,"v":-2.5},{"g":"Slamf9","c":6,"v":-5},{"g":"Slamf9","c":7,"v":0},{"g":"Slamf9","c":8,"v":-2},{"g":"Slamf9","c":9,"v":-2},
{"g":"Slc11a1","c":1,"v":2.5},{"g":"Slc11a1","c":2,"v":2.2},{"g":"Slc11a1","c":3,"v":1.2},{"g":"Slc11a1","c":4,"v":-3},{"g":"Slc11a1","c":5,"v":-2.5},{"g":"Slc11a1","c":6,"v":-5},{"g":"Slc11a1","c":7,"v":-2.5},{"g":"Slc11a1","c":8,"v":-4},{"g":"Slc11a1","c":9,"v":-2.5},
{"g":"Slc15a3","c":1,"v":2.5},{"g":"Slc15a3","c":2,"v":3},{"g":"Slc15a3","c":3,"v":2.2},{"g":"Slc15a3","c":4,"v":-3},{"g":"Slc15a3","c":5,"v":-2.5},{"g":"Slc15a3","c":6,"v":-5},{"g":"Slc15a3","c":7,"v":-2.5},{"g":"Slc15a3","c":8,"v":-2.5},{"g":"Slc15a3","c":9,"v":-3},
{"g":"Slc2a5","c":1,"v":0.5},{"g":"Slc2a5","c":2,"v":0.7},{"g":"Slc2a5","c":3,"v":0.5},{"g":"Slc2a5","c":4,"v":-2},{"g":"Slc2a5","c":5,"v":-2},{"g":"Slc2a5","c":6,"v":-2},{"g":"Slc2a5","c":7,"v":-2},{"g":"Slc2a5","c":8,"v":-3},{"g":"Slc2a5","c":9,"v":-2},
{"g":"Slco2b1","c":1,"v":0.7},{"g":"Slco2b1","c":2,"v":1},{"g":"Slco2b1","c":3,"v":0.6},{"g":"Slco2b1","c":4,"v":-2},{"g":"Slco2b1","c":5,"v":-2},{"g":"Slco2b1","c":6,"v":-1.5},{"g":"Slco2b1","c":7,"v":-2},{"g":"Slco2b1","c":8,"v":-2},{"g":"Slco2b1","c":9,"v":-1.5},
{"g":"Spi1","c":1,"v":1},{"g":"Spi1","c":2,"v":1.2},{"g":"Spi1","c":3,"v":1},{"g":"Spi1","c":4,"v":-2},{"g":"Spi1","c":5,"v":-2},{"g":"Spi1","c":6,"v":-4},{"g":"Spi1","c":7,"v":-3.5},{"g":"Spi1","c":8,"v":-3},{"g":"Spi1","c":9,"v":-3},
{"g":"St14","c":1,"v":2.5},{"g":"St14","c":2,"v":3},{"g":"St14","c":3,"v":1},{"g":"St14","c":4,"v":-2},{"g":"St14","c":5,"v":-2},{"g":"St14","c":6,"v":-1.5},{"g":"St14","c":7,"v":-0.7},{"g":"St14","c":8,"v":-1},{"g":"St14","c":9,"v":0},
{"g":"Susd3","c":1,"v":1},{"g":"Susd3","c":2,"v":1.3},{"g":"Susd3","c":3,"v":0.7},{"g":"Susd3","c":4,"v":-4.5},{"g":"Susd3","c":5,"v":-2},{"g":"Susd3","c":6,"v":-4},{"g":"Susd3","c":7,"v":-3},{"g":"Susd3","c":8,"v":-3},{"g":"Susd3","c":9,"v":-2.5},
{"g":"Tbxas1","c":1,"v":1.5},{"g":"Tbxas1","c":2,"v":2},{"g":"Tbxas1","c":3,"v":1.2},{"g":"Tbxas1","c":4,"v":-2},{"g":"Tbxas1","c":5,"v":-2},{"g":"Tbxas1","c":6,"v":-2.5},{"g":"Tbxas1","c":7,"v":-2.5},{"g":"Tbxas1","c":8,"v":-2},{"g":"Tbxas1","c":9,"v":-2.5},
{"g":"Tgfb1","c":1,"v":0.7},{"g":"Tgfb1","c":2,"v":1},{"g":"Tgfb1","c":3,"v":0.7},{"g":"Tgfb1","c":4,"v":-1.5},{"g":"Tgfb1","c":5,"v":-1.5},{"g":"Tgfb1","c":6,"v":-2},{"g":"Tgfb1","c":7,"v":-1.5},{"g":"Tgfb1","c":8,"v":-1.5},{"g":"Tgfb1","c":9,"v":-1},
{"g":"Tgfbr2","c":1,"v":0.7},{"g":"Tgfbr2","c":2,"v":1},{"g":"Tgfbr2","c":3,"v":0.6},{"g":"Tgfbr2","c":4,"v":-1.3},{"g":"Tgfbr2","c":5,"v":-1.3},{"g":"Tgfbr2","c":6,"v":-1},{"g":"Tgfbr2","c":7,"v":-1},{"g":"Tgfbr2","c":8,"v":-1.2},{"g":"Tgfbr2","c":9,"v":-0.6},
{"g":"Tgm1","c":1,"v":2.5},{"g":"Tgm1","c":2,"v":3},{"g":"Tgm1","c":3,"v":3},{"g":"Tgm1","c":4,"v":1},{"g":"Tgm1","c":5,"v":0.9},{"g":"Tgm1","c":6,"v":0.7},{"g":"Tgm1","c":7,"v":0.8},{"g":"Tgm1","c":8,"v":1.3},{"g":"Tgm1","c":9,"v":0.4},
{"g":"Thy1","c":1,"v":1.5},{"g":"Thy1","c":2,"v":1.7},{"g":"Thy1","c":3,"v":1},{"g":"Thy1","c":4,"v":0.2},{"g":"Thy1","c":5,"v":0},{"g":"Thy1","c":6,"v":-0.3},{"g":"Thy1","c":7,"v":-0.3},{"g":"Thy1","c":8,"v":0},{"g":"Thy1","c":9,"v":-0.1},
{"g":"Tifab","c":1,"v":1},{"g":"Tifab","c":2,"v":1.2},{"g":"Tifab","c":3,"v":0.8},{"g":"Tifab","c":4,"v":-4},{"g":"Tifab","c":5,"v":-3.5},{"g":"Tifab","c":6,"v":-4},{"g":"Tifab","c":7,"v":-4},{"g":"Tifab","c":8,"v":-5},{"g":"Tifab","c":9,"v":-2},
{"g":"Tlr13","c":1,"v":1.2},{"g":"Tlr13","c":2,"v":1.5},{"g":"Tlr13","c":3,"v":1.2},{"g":"Tlr13","c":4,"v":-3.5},{"g":"Tlr13","c":5,"v":-2.5},{"g":"Tlr13","c":6,"v":-6},{"g":"Tlr13","c":7,"v":-4},{"g":"Tlr13","c":8,"v":-4},{"g":"Tlr13","c":9,"v":-4.5},
{"g":"Tlr2","c":1,"v":1},{"g":"Tlr2","c":2,"v":1.3},{"g":"Tlr2","c":3,"v":1.2},{"g":"Tlr2","c":4,"v":-2},{"g":"Tlr2","c":5,"v":-1},{"g":"Tlr2","c":6,"v":-2},{"g":"Tlr2","c":7,"v":-2},{"g":"Tlr2","c":8,"v":-2},{"g":"Tlr2","c":9,"v":-0.2},
{"g":"Tlr7","c":1,"v":1},{"g":"Tlr7","c":2,"v":1.3},{"g":"Tlr7","c":3,"v":1.2},{"g":"Tlr7","c":4,"v":-2.5},{"g":"Tlr7","c":5,"v":-2},{"g":"Tlr7","c":6,"v":-5},{"g":"Tlr7","c":7,"v":-2.5},{"g":"Tlr7","c":8,"v":-2.5},{"g":"Tlr7","c":9,"v":-4.5},
{"g":"Tmem173","c":1,"v":0.8},{"g":"Tmem173","c":2,"v":1},{"g":"Tmem173","c":3,"v":0.8},{"g":"Tmem173","c":4,"v":-2},{"g":"Tmem173","c":5,"v":-2},{"g":"Tmem173","c":6,"v":-2},{"g":"Tmem173","c":7,"v":-2.5},{"g":"Tmem173","c":8,"v":-2.5},{"g":"Tmem173","c":9,"v":-2},
{"g":"Trem2","c":1,"v":2},{"g":"Trem2","c":2,"v":2},{"g":"Trem2","c":3,"v":1.7},{"g":"Trem2","c":4,"v":-3},{"g":"Trem2","c":5,"v":-2.5},{"g":"Trem2","c":6,"v":-6.5},{"g":"Trem2","c":7,"v":-2.5},{"g":"Trem2","c":8,"v":-3.5},{"g":"Trem2","c":9,"v":-5},
{"g":"Treml2","c":1,"v":1.7},{"g":"Treml2","c":2,"v":2},{"g":"Treml2","c":3,"v":1.5},{"g":"Treml2","c":4,"v":-2},{"g":"Treml2","c":5,"v":-2},{"g":"Treml2","c":6,"v":-4},{"g":"Treml2","c":7,"v":-1},{"g":"Treml2","c":8,"v":0.2},{"g":"Treml2","c":9,"v":-1},
{"g":"Trim14","c":1,"v":1},{"g":"Trim14","c":2,"v":1.2},{"g":"Trim14","c":3,"v":1},{"g":"Trim14","c":4,"v":-2},{"g":"Trim14","c":5,"v":-1.5},{"g":"Trim14","c":6,"v":-1.2},{"g":"Trim14","c":7,"v":-0.8},{"g":"Trim14","c":8,"v":-0.5},{"g":"Trim14","c":9,"v":0.1},
{"g":"Tyrobp","c":1,"v":2.5},{"g":"Tyrobp","c":2,"v":2.5},{"g":"Tyrobp","c":3,"v":2.2},{"g":"Tyrobp","c":4,"v":-4},{"g":"Tyrobp","c":5,"v":-3},{"g":"Tyrobp","c":6,"v":-6},{"g":"Tyrobp","c":7,"v":-5},{"g":"Tyrobp","c":8,"v":-5},{"g":"Tyrobp","c":9,"v":-6.5},
{"g":"Unc93b1","c":1,"v":0.7},{"g":"Unc93b1","c":2,"v":1},{"g":"Unc93b1","c":3,"v":0.5},{"g":"Unc93b1","c":4,"v":-2.5},{"g":"Unc93b1","c":5,"v":-2},{"g":"Unc93b1","c":6,"v":-2},{"g":"Unc93b1","c":7,"v":-2},{"g":"Unc93b1","c":8,"v":-2},{"g":"Unc93b1","c":9,"v":-1.5},
{"g":"Vav1","c":1,"v":0.8},{"g":"Vav1","c":2,"v":1.2},{"g":"Vav1","c":3,"v":0.8},{"g":"Vav1","c":4,"v":-3.5},{"g":"Vav1","c":5,"v":-2.5},{"g":"Vav1","c":6,"v":-5.5},{"g":"Vav1","c":7,"v":-5.5},{"g":"Vav1","c":8,"v":-5},{"g":"Vav1","c":9,"v":-5},
{"g":"Vsir","c":1,"v":0.8},{"g":"Vsir","c":2,"v":1},{"g":"Vsir","c":3,"v":0.6},{"g":"Vsir","c":4,"v":-2.5},{"g":"Vsir","c":5,"v":-2},{"g":"Vsir","c":6,"v":-2},{"g":"Vsir","c":7,"v":-2},{"g":"Vsir","c":8,"v":-1.5},{"g":"Vsir","c":9,"v":-2},
{"g":"Zfp36","c":1,"v":0.6},{"g":"Zfp36","c":2,"v":0.8},{"g":"Zfp36","c":3,"v":0.6},{"g":"Zfp36","c":4,"v":-0.5},{"g":"Zfp36","c":5,"v":-0.7},{"g":"Zfp36","c":6,"v":-0.5},{"g":"Zfp36","c":7,"v":0.2},{"g":"Zfp36","c":8,"v":0.1},{"g":"Zfp36","c":9,"v":0.4}],
"Csf1r":[{"r":"Cortex","g":"G1","m":18.5,"lo":18,"hi":19},{"r":"Cortex","g":"G2","m":0.6,"lo":0.3,"hi":0.9},{"r":"Cortex","g":"G3","m":30.5,"lo":28,"hi":33},{"r":"Cortex","g":"G4","m":1.5,"lo":1.2,"hi":1.8},{"r":"Hippocampus","g":"G1","m":19,"lo":18.5,"hi":19.5},{"r":"Hippocampus","g":"G2","m":0.7,"lo":0.4,"hi":1},{"r":"Hippocampus","g":"G3","m":37.5,"lo":35.5,"hi":39.5},{"r":"Hippocampus","g":"G4","m":7,"lo":5,"hi":9},{"r":"Thalamus","g":"G1","m":20.5,"lo":19.8,"hi":21.2},{"r":"Thalamus","g":"G2","m":0.8,"lo":0.3,"hi":1.3},{"r":"Thalamus","g":"G3","m":30.5,"lo":29,"hi":32},{"r":"Thalamus","g":"G4","m":0.5,"lo":0.4,"hi":0.6},
{"r":"Cortex","g":"G1","v":18},{"r":"Cortex","g":"G1","v":18.5},{"r":"Cortex","g":"G1","v":19},{"r":"Cortex","g":"G1","v":19.5},{"r":"Cortex","g":"G2","v":0.3},{"r":"Cortex","g":"G2","v":0.5},{"r":"Cortex","g":"G2","v":0.7},{"r":"Cortex","g":"G2","v":2},{"r":"Cortex","g":"G3","v":27},{"r":"Cortex","g":"G3","v":28},{"r":"Cortex","g":"G3","v":30},{"r":"Cortex","g":"G3","v":36.5},{"r":"Cortex","g":"G4","v":1},{"r":"Cortex","g":"G4","v":1.3},{"r":"Cortex","g":"G4","v":1.5},{"r":"Cortex","g":"G4","v":2},
{"r":"Hippocampus","g":"G1","v":18},{"r":"Hippocampus","g":"G1","v":19},{"r":"Hippocampus","g":"G1","v":19.5},{"r":"Hippocampus","g":"G1","v":20},{"r":"Hippocampus","g":"G2","v":0.3},{"r":"Hippocampus","g":"G2","v":0.5},{"r":"Hippocampus","g":"G2","v":0.7},{"r":"Hippocampus","g":"G2","v":1.5},{"r":"Hippocampus","g":"G3","v":33.5},{"r":"Hippocampus","g":"G3","v":35},{"r":"Hippocampus","g":"G3","v":37},{"r":"Hippocampus","g":"G3","v":41},{"r":"Hippocampus","g":"G4","v":3},{"r":"Hippocampus","g":"G4","v":5},{"r":"Hippocampus","g":"G4","v":7},{"r":"Hippocampus","g":"G4","v":12.5},
{"r":"Thalamus","g":"G1","v":19.5},{"r":"Thalamus","g":"G1","v":20},{"r":"Thalamus","g":"G1","v":21},{"r":"Thalamus","g":"G1","v":21.5},{"r":"Thalamus","g":"G2","v":0.2},{"r":"Thalamus","g":"G2","v":0.5},{"r":"Thalamus","g":"G2","v":0.7},{"r":"Thalamus","g":"G2","v":2.3},{"r":"Thalamus","g":"G3","v":27},{"r":"Thalamus","g":"G3","v":29},{"r":"Thalamus","g":"G3","v":31},{"r":"Thalamus","g":"G3","v":33},{"r":"Thalamus","g":"G4","v":0.3},{"r":"Thalamus","g":"G4","v":0.4},{"r":"Thalamus","g":"G4","v":0.5},{"r":"Thalamus","g":"G4","v":0.7}],
"Cx3cr1":[{"r":"Cortex","g":"G1","m":11,"lo":10,"hi":11.8},{"r":"Cortex","g":"G2","m":0.4,"lo":0.2,"hi":0.6},{"r":"Cortex","g":"G3","m":17.7,"lo":16.8,"hi":18.5},{"r":"Cortex","g":"G4","m":0.8,"lo":0.6,"hi":1},{"r":"Hippocampus","g":"G1","m":10.8,"lo":10,"hi":11.5},{"r":"Hippocampus","g":"G2","m":0.2,"lo":0.1,"hi":0.3},{"r":"Hippocampus","g":"G3","m":20.8,"lo":19.5,"hi":22},{"r":"Hippocampus","g":"G4","m":3.7,"lo":2.5,"hi":4.8},{"r":"Thalamus","g":"G1","m":11.2,"lo":10.5,"hi":11.8},{"r":"Thalamus","g":"G2","m":0.3,"lo":0.1,"hi":0.5},{"r":"Thalamus","g":"G3","m":16.7,"lo":16,"hi":17.5},{"r":"Thalamus","g":"G4","m":0.3,"lo":0.2,"hi":0.4},
{"r":"Cortex","g":"G1","v":9.5},{"r":"Cortex","g":"G1","v":10.5},{"r":"Cortex","g":"G1","v":11.5},{"r":"Cortex","g":"G1","v":12},{"r":"Cortex","g":"G2","v":0.2},{"r":"Cortex","g":"G2","v":0.3},{"r":"Cortex","g":"G2","v":0.4},{"r":"Cortex","g":"G2","v":1},{"r":"Cortex","g":"G3","v":16},{"r":"Cortex","g":"G3","v":17},{"r":"Cortex","g":"G3","v":18},{"r":"Cortex","g":"G3","v":19.5},{"r":"Cortex","g":"G4","v":0.5},{"r":"Cortex","g":"G4","v":0.7},{"r":"Cortex","g":"G4","v":0.9},{"r":"Cortex","g":"G4","v":1.2},
{"r":"Hippocampus","g":"G1","v":10},{"r":"Hippocampus","g":"G1","v":10.3},{"r":"Hippocampus","g":"G1","v":11},{"r":"Hippocampus","g":"G1","v":12},{"r":"Hippocampus","g":"G2","v":0.1},{"r":"Hippocampus","g":"G2","v":0.2},{"r":"Hippocampus","g":"G2","v":0.2},{"r":"Hippocampus","g":"G2","v":0.3},{"r":"Hippocampus","g":"G3","v":18},{"r":"Hippocampus","g":"G3","v":19.5},{"r":"Hippocampus","g":"G3","v":22},{"r":"Hippocampus","g":"G3","v":23.5},{"r":"Hippocampus","g":"G4","v":1},{"r":"Hippocampus","g":"G4","v":1.5},{"r":"Hippocampus","g":"G4","v":3.5},{"r":"Hippocampus","g":"G4","v":6.7},
{"r":"Thalamus","g":"G1","v":10.2},{"r":"Thalamus","g":"G1","v":10.8},{"r":"Thalamus","g":"G1","v":11.5},{"r":"Thalamus","g":"G1","v":12},{"r":"Thalamus","g":"G2","v":0.1},{"r":"Thalamus","g":"G2","v":0.2},{"r":"Thalamus","g":"G2","v":0.3},{"r":"Thalamus","g":"G2","v":0.7},{"r":"Thalamus","g":"G3","v":15},{"r":"Thalamus","g":"G3","v":16},{"r":"Thalamus","g":"G3","v":17},{"r":"Thalamus","g":"G3","v":17.8},{"r":"Thalamus","g":"G4","v":0.1},{"r":"Thalamus","g":"G4","v":0.2},{"r":"Thalamus","g":"G4","v":0.3},{"r":"Thalamus","g":"G4","v":0.5}],
"C1qa":[{"r":"Cortex","g":"G1","m":18,"lo":16.5,"hi":19.5},{"r":"Cortex","g":"G2","m":1,"lo":0.3,"hi":1.7},{"r":"Cortex","g":"G3","m":46.5,"lo":39,"hi":54},{"r":"Cortex","g":"G4","m":3.5,"lo":2.5,"hi":4.5},{"r":"Hippocampus","g":"G1","m":20.5,"lo":18.5,"hi":22.5},{"r":"Hippocampus","g":"G2","m":0.6,"lo":0.3,"hi":0.9},{"r":"Hippocampus","g":"G3","m":66,"lo":63.5,"hi":68},{"r":"Hippocampus","g":"G4","m":16,"lo":10.5,"hi":21},{"r":"Thalamus","g":"G1","m":24,"lo":20,"hi":27},{"r":"Thalamus","g":"G2","m":0.8,"lo":0.1,"hi":1.6},{"r":"Thalamus","g":"G3","m":50,"lo":44,"hi":55},{"r":"Thalamus","g":"G4","m":1,"lo":0.3,"hi":1.8},
{"r":"Cortex","g":"G1","v":16},{"r":"Cortex","g":"G1","v":17},{"r":"Cortex","g":"G1","v":18},{"r":"Cortex","g":"G1","v":20.5},{"r":"Cortex","g":"G2","v":0},{"r":"Cortex","g":"G2","v":0.3},{"r":"Cortex","g":"G2","v":0.7},{"r":"Cortex","g":"G2","v":3},{"r":"Cortex","g":"G3","v":32},{"r":"Cortex","g":"G3","v":36},{"r":"Cortex","g":"G3","v":50},{"r":"Cortex","g":"G3","v":64},{"r":"Cortex","g":"G4","v":2},{"r":"Cortex","g":"G4","v":3},{"r":"Cortex","g":"G4","v":4},{"r":"Cortex","g":"G4","v":5},
{"r":"Hippocampus","g":"G1","v":17},{"r":"Hippocampus","g":"G1","v":19},{"r":"Hippocampus","g":"G1","v":21},{"r":"Hippocampus","g":"G1","v":23},{"r":"Hippocampus","g":"G2","v":0.2},{"r":"Hippocampus","g":"G2","v":0.4},{"r":"Hippocampus","g":"G2","v":0.6},{"r":"Hippocampus","g":"G2","v":1},{"r":"Hippocampus","g":"G3","v":62},{"r":"Hippocampus","g":"G3","v":64},{"r":"Hippocampus","g":"G3","v":66},{"r":"Hippocampus","g":"G3","v":70},{"r":"Hippocampus","g":"G4","v":6},{"r":"Hippocampus","g":"G4","v":10},{"r":"Hippocampus","g":"G4","v":14},{"r":"Hippocampus","g":"G4","v":30},
{"r":"Thalamus","g":"G1","v":19},{"r":"Thalamus","g":"G1","v":21},{"r":"Thalamus","g":"G1","v":25},{"r":"Thalamus","g":"G1","v":32.5},{"r":"Thalamus","g":"G2","v":0},{"r":"Thalamus","g":"G2","v":0.2},{"r":"Thalamus","g":"G2","v":0.5},{"r":"Thalamus","g":"G2","v":3},{"r":"Thalamus","g":"G3","v":36},{"r":"Thalamus","g":"G3","v":47},{"r":"Thalamus","g":"G3","v":50},{"r":"Thalamus","g":"G3","v":61},{"r":"Thalamus","g":"G4","v":0},{"r":"Thalamus","g":"G4","v":0.5},{"r":"Thalamus","g":"G4","v":0.8},{"r":"Thalamus","g":"G4","v":2.5}],
"Hexb":[{"r":"Cortex","g":"G1","m":44,"lo":41,"hi":47},{"r":"Cortex","g":"G2","m":9.5,"lo":8,"hi":11},{"r":"Cortex","g":"G3","m":84,"lo":75,"hi":93},{"r":"Cortex","g":"G4","m":12,"lo":10,"hi":14},{"r":"Hippocampus","g":"G1","m":42.5,"lo":41,"hi":44},{"r":"Hippocampus","g":"G2","m":11,"lo":9.5,"hi":12.5},{"r":"Hippocampus","g":"G3","m":105,"lo":95,"hi":113},{"r":"Hippocampus","g":"G4","m":28,"lo":22,"hi":34},{"r":"Thalamus","g":"G1","m":48,"lo":45,"hi":51},{"r":"Thalamus","g":"G2","m":12,"lo":10,"hi":14},{"r":"Thalamus","g":"G3","m":85,"lo":80,"hi":90},{"r":"Thalamus","g":"G4","m":11.5,"lo":10,"hi":13.5},
{"r":"Cortex","g":"G1","v":39},{"r":"Cortex","g":"G1","v":43},{"r":"Cortex","g":"G1","v":45},{"r":"Cortex","g":"G1","v":47},{"r":"Cortex","g":"G2","v":7},{"r":"Cortex","g":"G2","v":8},{"r":"Cortex","g":"G2","v":10},{"r":"Cortex","g":"G2","v":12},{"r":"Cortex","g":"G3","v":70},{"r":"Cortex","g":"G3","v":80},{"r":"Cortex","g":"G3","v":90},{"r":"Cortex","g":"G3","v":102},{"r":"Cortex","g":"G4","v":10},{"r":"Cortex","g":"G4","v":11},{"r":"Cortex","g":"G4","v":13},{"r":"Cortex","g":"G4","v":15},
{"r":"Hippocampus","g":"G1","v":41},{"r":"Hippocampus","g":"G1","v":42},{"r":"Hippocampus","g":"G1","v":43},{"r":"Hippocampus","g":"G1","v":44},{"r":"Hippocampus","g":"G2","v":9},{"r":"Hippocampus","g":"G2","v":10},{"r":"Hippocampus","g":"G2","v":11},{"r":"Hippocampus","g":"G2","v":13},{"r":"Hippocampus","g":"G3","v":90},{"r":"Hippocampus","g":"G3","v":95},{"r":"Hippocampus","g":"G3","v":108},{"r":"Hippocampus","g":"G3","v":122},{"r":"Hippocampus","g":"G4","v":15},{"r":"Hippocampus","g":"G4","v":25},{"r":"Hippocampus","g":"G4","v":28},{"r":"Hippocampus","g":"G4","v":42},
{"r":"Thalamus","g":"G1","v":44},{"r":"Thalamus","g":"G1","v":46},{"r":"Thalamus","g":"G1","v":49},{"r":"Thalamus","g":"G1","v":52},{"r":"Thalamus","g":"G2","v":9},{"r":"Thalamus","g":"G2","v":11},{"r":"Thalamus","g":"G2","v":12},{"r":"Thalamus","g":"G2","v":14},{"r":"Thalamus","g":"G3","v":74},{"r":"Thalamus","g":"G3","v":80},{"r":"Thalamus","g":"G3","v":87},{"r":"Thalamus","g":"G3","v":92},{"r":"Thalamus","g":"G4","v":9},{"r":"Thalamus","g":"G4","v":11},{"r":"Thalamus","g":"G4","v":12},{"r":"Thalamus","g":"G4","v":14}],
"Siglech":[{"r":"Cortex","g":"G1","m":4.05,"lo":3.85,"hi":4.25},{"r":"Cortex","g":"G2","m":0.1,"lo":0.05,"hi":0.15},{"r":"Cortex","g":"G3","m":5.95,"lo":5.3,"hi":6.6},{"r":"Cortex","g":"G4","m":0.15,"lo":0.12,"hi":0.18},{"r":"Hippocampus","g":"G1","m":3.75,"lo":3.4,"hi":4.1},{"r":"Hippocampus","g":"G2","m":0.05,"lo":0.03,"hi":0.07},{"r":"Hippocampus","g":"G3","m":6.25,"lo":5.9,"hi":6.6},{"r":"Hippocampus","g":"G4","m":0.8,"lo":0.5,"hi":1.1},{"r":"Thalamus","g":"G1","m":3.75,"lo":3.1,"hi":4.3},{"r":"Thalamus","g":"G2","m":0.05,"lo":0.03,"hi":0.07},{"r":"Thalamus","g":"G3","m":5.1,"lo":4.6,"hi":5.6},{"r":"Thalamus","g":"G4","m":0.1,"lo":0.07,"hi":0.13},
{"r":"Cortex","g":"G1","v":3.8},{"r":"Cortex","g":"G1","v":4},{"r":"Cortex","g":"G1","v":4.1},{"r":"Cortex","g":"G1","v":4.3},{"r":"Cortex","g":"G2","v":0},{"r":"Cortex","g":"G2","v":0.05},{"r":"Cortex","g":"G2","v":0.1},{"r":"Cortex","g":"G2","v":0.3},{"r":"Cortex","g":"G3","v":4.8},{"r":"Cortex","g":"G3","v":5},{"r":"Cortex","g":"G3","v":5.3},{"r":"Cortex","g":"G3","v":7.9},{"r":"Cortex","g":"G4","v":0.1},{"r":"Cortex","g":"G4","v":0.12},{"r":"Cortex","g":"G4","v":0.15},{"r":"Cortex","g":"G4","v":0.2},
{"r":"Hippocampus","g":"G1","v":3.2},{"r":"Hippocampus","g":"G1","v":3.5},{"r":"Hippocampus","g":"G1","v":3.9},{"r":"Hippocampus","g":"G1","v":4.2},{"r":"Hippocampus","g":"G2","v":0.02},{"r":"Hippocampus","g":"G2","v":0.04},{"r":"Hippocampus","g":"G2","v":0.05},{"r":"Hippocampus","g":"G2","v":0.08},{"r":"Hippocampus","g":"G3","v":5.4},{"r":"Hippocampus","g":"G3","v":6},{"r":"Hippocampus","g":"G3","v":6.3},{"r":"Hippocampus","g":"G3","v":6.8},{"r":"Hippocampus","g":"G4","v":0.2},{"r":"Hippocampus","g":"G4","v":0.5},{"r":"Hippocampus","g":"G4","v":0.8},{"r":"Hippocampus","g":"G4","v":1.5},
{"r":"Thalamus","g":"G1","v":3},{"r":"Thalamus","g":"G1","v":3.5},{"r":"Thalamus","g":"G1","v":4},{"r":"Thalamus","g":"G1","v":4.6},{"r":"Thalamus","g":"G2","v":0.02},{"r":"Thalamus","g":"G2","v":0.04},{"r":"Thalamus","g":"G2","v":0.05},{"r":"Thalamus","g":"G2","v":0.08},{"r":"Thalamus","g":"G3","v":4.4},{"r":"Thalamus","g":"G3","v":4.8},{"r":"Thalamus","g":"G3","v":5},{"r":"Thalamus","g":"G3","v":6.2},{"r":"Thalamus","g":"G4","v":0.05},{"r":"Thalamus","g":"G4","v":0.08},{"r":"Thalamus","g":"G4","v":0.1},{"r":"Thalamus","g":"G4","v":0.15}],
"Spi1":[{"r":"Cortex","g":"G1","m":1.42,"lo":1.15,"hi":1.7},{"r":"Cortex","g":"G2","m":0.05,"lo":0.02,"hi":0.08},{"r":"Cortex","g":"G3","m":2.4,"lo":2.1,"hi":2.7},{"r":"Cortex","g":"G4","m":0.32,"lo":0.15,"hi":0.5},{"r":"Hippocampus","g":"G1","m":1.38,"lo":1.15,"hi":1.6},{"r":"Hippocampus","g":"G2","m":0.07,"lo":0.04,"hi":0.1},{"r":"Hippocampus","g":"G3","m":3.27,"lo":3,"hi":3.55},{"r":"Hippocampus","g":"G4","m":1,"lo":0.65,"hi":1.35},{"r":"Thalamus","g":"G1","m":1.6,"lo":1.2,"hi":1.95},{"r":"Thalamus","g":"G2","m":0.18,"lo":0.05,"hi":0.3},{"r":"Thalamus","g":"G3","m":2.85,"lo":2.5,"hi":3.15},{"r":"Thalamus","g":"G4","m":0.08,"lo":0.03,"hi":0.15},
{"r":"Cortex","g":"G1","v":1.05},{"r":"Cortex","g":"G1","v":1.1},{"r":"Cortex","g":"G1","v":1.6},{"r":"Cortex","g":"G1","v":1.85},{"r":"Cortex","g":"G2","v":0},{"r":"Cortex","g":"G2","v":0.03},{"r":"Cortex","g":"G2","v":0.05},{"r":"Cortex","g":"G2","v":0.1},{"r":"Cortex","g":"G3","v":1.65},{"r":"Cortex","g":"G3","v":2.3},{"r":"Cortex","g":"G3","v":2.6},{"r":"Cortex","g":"G3","v":2.9},{"r":"Cortex","g":"G4","v":0.05},{"r":"Cortex","g":"G4","v":0.15},{"r":"Cortex","g":"G4","v":0.4},{"r":"Cortex","g":"G4","v":0.6},
{"r":"Hippocampus","g":"G1","v":1.1},{"r":"Hippocampus","g":"G1","v":1.3},{"r":"Hippocampus","g":"G1","v":1.45},{"r":"Hippocampus","g":"G1","v":1.65},{"r":"Hippocampus","g":"G2","v":0.03},{"r":"Hippocampus","g":"G2","v":0.05},{"r":"Hippocampus","g":"G2","v":0.08},{"r":"Hippocampus","g":"G2","v":0.13},{"r":"Hippocampus","g":"G3","v":2.55},{"r":"Hippocampus","g":"G3","v":3.3},{"r":"Hippocampus","g":"G3","v":3.55},{"r":"Hippocampus","g":"G3","v":3.65},{"r":"Hippocampus","g":"G4","v":0.28},{"r":"Hippocampus","g":"G4","v":0.65},{"r":"Hippocampus","g":"G4","v":1.15},{"r":"Hippocampus","g":"G4","v":1.87},
{"r":"Thalamus","g":"G1","v":1.15},{"r":"Thalamus","g":"G1","v":1.25},{"r":"Thalamus","g":"G1","v":1.75},{"r":"Thalamus","g":"G1","v":2.25},{"r":"Thalamus","g":"G2","v":0},{"r":"Thalamus","g":"G2","v":0.05},{"r":"Thalamus","g":"G2","v":0.15},{"r":"Thalamus","g":"G2","v":0.38},{"r":"Thalamus","g":"G3","v":2.1},{"r":"Thalamus","g":"G3","v":2.9},{"r":"Thalamus","g":"G3","v":3.05},{"r":"Thalamus","g":"G3","v":3.25},{"r":"Thalamus","g":"G4","v":0.02},{"r":"Thalamus","g":"G4","v":0.05},{"r":"Thalamus","g":"G4","v":0.1},{"r":"Thalamus","g":"G4","v":0.18}],
"Ccl6":[{"r":"Cortex","g":"G1","m":0.8,"lo":0.5,"hi":1.1},{"r":"Cortex","g":"G2","m":0.01,"lo":0,"hi":0.02},{"r":"Cortex","g":"G3","m":5.6,"lo":4.7,"hi":6.6},{"r":"Cortex","g":"G4","m":0.45,"lo":0.3,"hi":0.6},{"r":"Hippocampus","g":"G1","m":0.5,"lo":0.4,"hi":0.6},{"r":"Hippocampus","g":"G2","m":0.01,"lo":0,"hi":0.02},{"r":"Hippocampus","g":"G3","m":7.05,"lo":6.5,"hi":7.6},{"r":"Hippocampus","g":"G4","m":1.6,"lo":1,"hi":2.05},{"r":"Thalamus","g":"G1","m":0.85,"lo":0.55,"hi":1.15},{"r":"Thalamus","g":"G2","m":0.1,"lo":0.02,"hi":0.18},{"r":"Thalamus","g":"G3","m":4.85,"lo":4.05,"hi":5.65},{"r":"Thalamus","g":"G4","m":0.2,"lo":0.1,"hi":0.3},
{"r":"Cortex","g":"G1","v":0.3},{"r":"Cortex","g":"G1","v":0.7},{"r":"Cortex","g":"G1","v":1},{"r":"Cortex","g":"G1","v":1.2},{"r":"Cortex","g":"G2","v":0},{"r":"Cortex","g":"G2","v":0},{"r":"Cortex","g":"G2","v":0.01},{"r":"Cortex","g":"G2","v":0.02},{"r":"Cortex","g":"G3","v":4},{"r":"Cortex","g":"G3","v":4.3},{"r":"Cortex","g":"G3","v":5.8},{"r":"Cortex","g":"G3","v":8.1},{"r":"Cortex","g":"G4","v":0.2},{"r":"Cortex","g":"G4","v":0.35},{"r":"Cortex","g":"G4","v":0.5},{"r":"Cortex","g":"G4","v":0.8},
{"r":"Hippocampus","g":"G1","v":0.35},{"r":"Hippocampus","g":"G1","v":0.45},{"r":"Hippocampus","g":"G1","v":0.5},{"r":"Hippocampus","g":"G1","v":0.6},{"r":"Hippocampus","g":"G2","v":0},{"r":"Hippocampus","g":"G2","v":0},{"r":"Hippocampus","g":"G2","v":0.01},{"r":"Hippocampus","g":"G2","v":0.01},{"r":"Hippocampus","g":"G3","v":5.7},{"r":"Hippocampus","g":"G3","v":7},{"r":"Hippocampus","g":"G3","v":7.3},{"r":"Hippocampus","g":"G3","v":8.2},{"r":"Hippocampus","g":"G4","v":0.45},{"r":"Hippocampus","g":"G4","v":1.5},{"r":"Hippocampus","g":"G4","v":1.7},{"r":"Hippocampus","g":"G4","v":2.75},
{"r":"Thalamus","g":"G1","v":0.5},{"r":"Thalamus","g":"G1","v":0.7},{"r":"Thalamus","g":"G1","v":1},{"r":"Thalamus","g":"G1","v":1.25},{"r":"Thalamus","g":"G2","v":0},{"r":"Thalamus","g":"G2","v":0.05},{"r":"Thalamus","g":"G2","v":0.1},{"r":"Thalamus","g":"G2","v":0.2},{"r":"Thalamus","g":"G3","v":3.6},{"r":"Thalamus","g":"G3","v":3.9},{"r":"Thalamus","g":"G3","v":4.6},{"r":"Thalamus","g":"G3","v":7},{"r":"Thalamus","g":"G4","v":0},{"r":"Thalamus","g":"G4","v":0.1},{"r":"Thalamus","g":"G4","v":0.2},{"r":"Thalamus","g":"G4","v":0.3}],
"Clec7a":[{"r":"Cortex","g":"G1","m":0.15,"lo":0.05,"hi":0.25},{"r":"Cortex","g":"G2","m":0.05,"lo":0.02,"hi":0.08},{"r":"Cortex","g":"G3","m":4.35,"lo":3.35,"hi":5.4},{"r":"Cortex","g":"G4","m":0.25,"lo":0.1,"hi":0.4},{"r":"Hippocampus","g":"G1","m":0.1,"lo":0,"hi":0.25},{"r":"Hippocampus","g":"G2","m":0.03,"lo":0.01,"hi":0.05},{"r":"Hippocampus","g":"G3","m":5.7,"lo":4.9,"hi":6.5},{"r":"Hippocampus","g":"G4","m":1.2,"lo":0.55,"hi":1.7},{"r":"Thalamus","g":"G1","m":0.2,"lo":0.05,"hi":0.3},{"r":"Thalamus","g":"G2","m":0.05,"lo":0.02,"hi":0.08},{"r":"Thalamus","g":"G3","m":3.75,"lo":3.5,"hi":4},{"r":"Thalamus","g":"G4","m":0.15,"lo":0.02,"hi":0.3},
{"r":"Cortex","g":"G1","v":0},{"r":"Cortex","g":"G1","v":0.05},{"r":"Cortex","g":"G1","v":0.1},{"r":"Cortex","g":"G1","v":0.4},{"r":"Cortex","g":"G2","v":0},{"r":"Cortex","g":"G2","v":0.02},{"r":"Cortex","g":"G2","v":0.05},{"r":"Cortex","g":"G2","v":0.15},{"r":"Cortex","g":"G3","v":2.3},{"r":"Cortex","g":"G3","v":2.85},{"r":"Cortex","g":"G3","v":5.6},{"r":"Cortex","g":"G3","v":6.7},{"r":"Cortex","g":"G4","v":0.02},{"r":"Cortex","g":"G4","v":0.15},{"r":"Cortex","g":"G4","v":0.3},{"r":"Cortex","g":"G4","v":0.45},
{"r":"Hippocampus","g":"G1","v":0},{"r":"Hippocampus","g":"G1","v":0.02},{"r":"Hippocampus","g":"G1","v":0.05},{"r":"Hippocampus","g":"G1","v":0.5},{"r":"Hippocampus","g":"G2","v":0},{"r":"Hippocampus","g":"G2","v":0.02},{"r":"Hippocampus","g":"G2","v":0.03},{"r":"Hippocampus","g":"G2","v":0.08},{"r":"Hippocampus","g":"G3","v":4.2},{"r":"Hippocampus","g":"G3","v":4.6},{"r":"Hippocampus","g":"G3","v":6.35},{"r":"Hippocampus","g":"G3","v":7.45},{"r":"Hippocampus","g":"G4","v":0.15},{"r":"Hippocampus","g":"G4","v":0.4},{"r":"Hippocampus","g":"G4","v":1},{"r":"Hippocampus","g":"G4","v":2.55},
{"r":"Thalamus","g":"G1","v":0.05},{"r":"Thalamus","g":"G1","v":0.1},{"r":"Thalamus","g":"G1","v":0.15},{"r":"Thalamus","g":"G1","v":0.55},{"r":"Thalamus","g":"G2","v":0},{"r":"Thalamus","g":"G2","v":0.02},{"r":"Thalamus","g":"G2","v":0.05},{"r":"Thalamus","g":"G2","v":0.12},{"r":"Thalamus","g":"G3","v":3.4},{"r":"Thalamus","g":"G3","v":3.5},{"r":"Thalamus","g":"G3","v":3.7},{"r":"Thalamus","g":"G3","v":4.3},{"r":"Thalamus","g":"G4","v":0},{"r":"Thalamus","g":"G4","v":0.05},{"r":"Thalamus","g":"G4","v":0.2},{"r":"Thalamus","g":"G4","v":0.35}],
"Cst7":[{"r":"Cortex","g":"G1","m":0.4,"lo":0.2,"hi":0.6},{"r":"Cortex","g":"G2","m":0.05,"lo":0.03,"hi":0.07},{"r":"Cortex","g":"G3","m":17.5,"lo":13.5,"hi":21.5},{"r":"Cortex","g":"G4","m":1.2,"lo":0.5,"hi":1.8},{"r":"Hippocampus","g":"G1","m":0.3,"lo":0.1,"hi":0.5},{"r":"Hippocampus","g":"G2","m":0.03,"lo":0.02,"hi":0.04},{"r":"Hippocampus","g":"G3","m":24.7,"lo":20.5,"hi":29},{"r":"Hippocampus","g":"G4","m":7.8,"lo":4.5,"hi":10.3},{"r":"Thalamus","g":"G1","m":0.4,"lo":0,"hi":0.7},{"r":"Thalamus","g":"G2","m":0.02,"lo":0.01,"hi":0.03},{"r":"Thalamus","g":"G3","m":15.5,"lo":13,"hi":18},{"r":"Thalamus","g":"G4","m":0.3,"lo":0.1,"hi":0.5},
{"r":"Cortex","g":"G1","v":0.1},{"r":"Cortex","g":"G1","v":0.3},{"r":"Cortex","g":"G1","v":0.5},{"r":"Cortex","g":"G1","v":0.8},{"r":"Cortex","g":"G2","v":0},{"r":"Cortex","g":"G2","v":0.03},{"r":"Cortex","g":"G2","v":0.05},{"r":"Cortex","g":"G2","v":0.08},{"r":"Cortex","g":"G3","v":10},{"r":"Cortex","g":"G3","v":14},{"r":"Cortex","g":"G3","v":19},{"r":"Cortex","g":"G3","v":27.3},{"r":"Cortex","g":"G4","v":0.5},{"r":"Cortex","g":"G4","v":0.8},{"r":"Cortex","g":"G4","v":1.2},{"r":"Cortex","g":"G4","v":2.5},
{"r":"Hippocampus","g":"G1","v":0},{"r":"Hippocampus","g":"G1","v":0.2},{"r":"Hippocampus","g":"G1","v":0.3},{"r":"Hippocampus","g":"G1","v":0.6},{"r":"Hippocampus","g":"G2","v":0},{"r":"Hippocampus","g":"G2","v":0.02},{"r":"Hippocampus","g":"G2","v":0.03},{"r":"Hippocampus","g":"G2","v":0.05},{"r":"Hippocampus","g":"G3","v":14.5},{"r":"Hippocampus","g":"G3","v":24},{"r":"Hippocampus","g":"G3","v":25},{"r":"Hippocampus","g":"G3","v":34.5},{"r":"Hippocampus","g":"G4","v":2},{"r":"Hippocampus","g":"G4","v":7},{"r":"Hippocampus","g":"G4","v":10},{"r":"Hippocampus","g":"G4","v":12.5},
{"r":"Thalamus","g":"G1","v":0},{"r":"Thalamus","g":"G1","v":0.05},{"r":"Thalamus","g":"G1","v":0.1},{"r":"Thalamus","g":"G1","v":1.6},{"r":"Thalamus","g":"G2","v":0},{"r":"Thalamus","g":"G2","v":0.01},{"r":"Thalamus","g":"G2","v":0.02},{"r":"Thalamus","g":"G2","v":0.04},{"r":"Thalamus","g":"G3","v":9.5},{"r":"Thalamus","g":"G3","v":14},{"r":"Thalamus","g":"G3","v":15.5},{"r":"Thalamus","g":"G3","v":22},{"r":"Thalamus","g":"G4","v":0},{"r":"Thalamus","g":"G4","v":0.2},{"r":"Thalamus","g":"G4","v":0.3},{"r":"Thalamus","g":"G4","v":0.5}],
"Ctsd":[{"r":"Cortex","g":"G1","m":113,"lo":108,"hi":118},{"r":"Cortex","g":"G2","m":82,"lo":77,"hi":87},{"r":"Cortex","g":"G3","m":255,"lo":225,"hi":285},{"r":"Cortex","g":"G4","m":113,"lo":105,"hi":122},{"r":"Hippocampus","g":"G1","m":128,"lo":112,"hi":145},{"r":"Hippocampus","g":"G2","m":113,"lo":98,"hi":133},{"r":"Hippocampus","g":"G3","m":315,"lo":280,"hi":350},{"r":"Hippocampus","g":"G4","m":172,"lo":150,"hi":192},{"r":"Thalamus","g":"G1","m":137,"lo":122,"hi":152},{"r":"Thalamus","g":"G2","m":128,"lo":112,"hi":145},{"r":"Thalamus","g":"G3","m":270,"lo":245,"hi":295},{"r":"Thalamus","g":"G4","m":118,"lo":112,"hi":124},
{"r":"Cortex","g":"G1","v":108},{"r":"Cortex","g":"G1","v":112},{"r":"Cortex","g":"G1","v":115},{"r":"Cortex","g":"G1","v":118},{"r":"Cortex","g":"G2","v":75},{"r":"Cortex","g":"G2","v":80},{"r":"Cortex","g":"G2","v":83},{"r":"Cortex","g":"G2","v":88},{"r":"Cortex","g":"G3","v":200},{"r":"Cortex","g":"G3","v":240},{"r":"Cortex","g":"G3","v":280},{"r":"Cortex","g":"G3","v":325},{"r":"Cortex","g":"G4","v":105},{"r":"Cortex","g":"G4","v":108},{"r":"Cortex","g":"G4","v":115},{"r":"Cortex","g":"G4","v":128},
{"r":"Hippocampus","g":"G1","v":108},{"r":"Hippocampus","g":"G1","v":118},{"r":"Hippocampus","g":"G1","v":125},{"r":"Hippocampus","g":"G1","v":175},{"r":"Hippocampus","g":"G2","v":90},{"r":"Hippocampus","g":"G2","v":100},{"r":"Hippocampus","g":"G2","v":110},{"r":"Hippocampus","g":"G2","v":162},{"r":"Hippocampus","g":"G3","v":228},{"r":"Hippocampus","g":"G3","v":300},{"r":"Hippocampus","g":"G3","v":355},{"r":"Hippocampus","g":"G3","v":380},{"r":"Hippocampus","g":"G4","v":130},{"r":"Hippocampus","g":"G4","v":160},{"r":"Hippocampus","g":"G4","v":190},{"r":"Hippocampus","g":"G4","v":205},
{"r":"Thalamus","g":"G1","v":120},{"r":"Thalamus","g":"G1","v":130},{"r":"Thalamus","g":"G1","v":140},{"r":"Thalamus","g":"G1","v":158},{"r":"Thalamus","g":"G2","v":95},{"r":"Thalamus","g":"G2","v":115},{"r":"Thalamus","g":"G2","v":130},{"r":"Thalamus","g":"G2","v":162},{"r":"Thalamus","g":"G3","v":208},{"r":"Thalamus","g":"G3","v":270},{"r":"Thalamus","g":"G3","v":290},{"r":"Thalamus","g":"G3","v":300},{"r":"Thalamus","g":"G4","v":108},{"r":"Thalamus","g":"G4","v":115},{"r":"Thalamus","g":"G4","v":120},{"r":"Thalamus","g":"G4","v":125}],
"Ctsz":[{"r":"Cortex","g":"G1","m":14.3,"lo":13,"hi":15.5},{"r":"Cortex","g":"G2","m":11.8,"lo":11,"hi":12.6},{"r":"Cortex","g":"G3","m":34,"lo":30.5,"hi":37},{"r":"Cortex","g":"G4","m":14.5,"lo":13.5,"hi":15.5},{"r":"Hippocampus","g":"G1","m":17.2,"lo":15,"hi":19.5},{"r":"Hippocampus","g":"G2","m":15.2,"lo":14.5,"hi":16},{"r":"Hippocampus","g":"G3","m":43,"lo":38.5,"hi":47},{"r":"Hippocampus","g":"G4","m":20.5,"lo":18,"hi":22},{"r":"Thalamus","g":"G1","m":15.5,"lo":13.5,"hi":17.5},{"r":"Thalamus","g":"G2","m":12.7,"lo":11,"hi":14.5},{"r":"Thalamus","g":"G3","m":31,"lo":27.5,"hi":34},{"r":"Thalamus","g":"G4","m":14.3,"lo":13.5,"hi":15},
{"r":"Cortex","g":"G1","v":12.5},{"r":"Cortex","g":"G1","v":13.5},{"r":"Cortex","g":"G1","v":15},{"r":"Cortex","g":"G1","v":16},{"r":"Cortex","g":"G2","v":11},{"r":"Cortex","g":"G2","v":11.5},{"r":"Cortex","g":"G2","v":12},{"r":"Cortex","g":"G2","v":13},{"r":"Cortex","g":"G3","v":28},{"r":"Cortex","g":"G3","v":30},{"r":"Cortex","g":"G3","v":35},{"r":"Cortex","g":"G3","v":41.5},{"r":"Cortex","g":"G4","v":13.5},{"r":"Cortex","g":"G4","v":14},{"r":"Cortex","g":"G4","v":15},{"r":"Cortex","g":"G4","v":16.5},
{"r":"Hippocampus","g":"G1","v":14},{"r":"Hippocampus","g":"G1","v":16},{"r":"Hippocampus","g":"G1","v":17},{"r":"Hippocampus","g":"G1","v":23},{"r":"Hippocampus","g":"G2","v":14.5},{"r":"Hippocampus","g":"G2","v":15},{"r":"Hippocampus","g":"G2","v":15.5},{"r":"Hippocampus","g":"G2","v":17},{"r":"Hippocampus","g":"G3","v":34.5},{"r":"Hippocampus","g":"G3","v":37},{"r":"Hippocampus","g":"G3","v":48},{"r":"Hippocampus","g":"G3","v":51},{"r":"Hippocampus","g":"G4","v":16.5},{"r":"Hippocampus","g":"G4","v":20},{"r":"Hippocampus","g":"G4","v":21},{"r":"Hippocampus","g":"G4","v":25},
{"r":"Thalamus","g":"G1","v":13},{"r":"Thalamus","g":"G1","v":15},{"r":"Thalamus","g":"G1","v":16},{"r":"Thalamus","g":"G1","v":18},{"r":"Thalamus","g":"G2","v":11},{"r":"Thalamus","g":"G2","v":12},{"r":"Thalamus","g":"G2","v":12.5},{"r":"Thalamus","g":"G2","v":17.5},{"r":"Thalamus","g":"G3","v":23.5},{"r":"Thalamus","g":"G3","v":32},{"r":"Thalamus","g":"G3","v":33},{"r":"Thalamus","g":"G3","v":35},{"r":"Thalamus","g":"G4","v":13.5},{"r":"Thalamus","g":"G4","v":14},{"r":"Thalamus","g":"G4","v":14.5},{"r":"Thalamus","g":"G4","v":16}],
"Itgax":[{"r":"Cortex","g":"G1","m":0.08,"lo":0.02,"hi":0.13},{"r":"Cortex","g":"G2","m":0.03,"lo":0.01,"hi":0.05},{"r":"Cortex","g":"G3","m":2.6,"lo":2.1,"hi":3.1},{"r":"Cortex","g":"G4","m":0.18,"lo":0.1,"hi":0.26},{"r":"Hippocampus","g":"G1","m":0.06,"lo":0.04,"hi":0.08},{"r":"Hippocampus","g":"G2","m":0.03,"lo":0.01,"hi":0.05},{"r":"Hippocampus","g":"G3","m":3.35,"lo":2.7,"hi":3.95},{"r":"Hippocampus","g":"G4","m":0.55,"lo":0.25,"hi":0.7},{"r":"Thalamus","g":"G1","m":0.12,"lo":0.05,"hi":0.2},{"r":"Thalamus","g":"G2","m":0.04,"lo":0.02,"hi":0.06},{"r":"Thalamus","g":"G3","m":2.38,"lo":2.1,"hi":2.65},{"r":"Thalamus","g":"G4","m":0.1,"lo":0.04,"hi":0.17},
{"r":"Cortex","g":"G1","v":0.02},{"r":"Cortex","g":"G1","v":0.05},{"r":"Cortex","g":"G1","v":0.08},{"r":"Cortex","g":"G1","v":0.2},{"r":"Cortex","g":"G2","v":0},{"r":"Cortex","g":"G2","v":0.02},{"r":"Cortex","g":"G2","v":0.03},{"r":"Cortex","g":"G2","v":0.05},{"r":"Cortex","g":"G3","v":1.75},{"r":"Cortex","g":"G3","v":2.2},{"r":"Cortex","g":"G3","v":2.6},{"r":"Cortex","g":"G3","v":3.95},{"r":"Cortex","g":"G4","v":0.05},{"r":"Cortex","g":"G4","v":0.12},{"r":"Cortex","g":"G4","v":0.2},{"r":"Cortex","g":"G4","v":0.3},
{"r":"Hippocampus","g":"G1","v":0.02},{"r":"Hippocampus","g":"G1","v":0.05},{"r":"Hippocampus","g":"G1","v":0.07},{"r":"Hippocampus","g":"G1","v":0.1},{"r":"Hippocampus","g":"G2","v":0},{"r":"Hippocampus","g":"G2","v":0.02},{"r":"Hippocampus","g":"G2","v":0.03},{"r":"Hippocampus","g":"G2","v":0.06},{"r":"Hippocampus","g":"G3","v":2.2},{"r":"Hippocampus","g":"G3","v":2.6},{"r":"Hippocampus","g":"G3","v":4.05},{"r":"Hippocampus","g":"G3","v":4.45},{"r":"Hippocampus","g":"G4","v":0.1},{"r":"Hippocampus","g":"G4","v":0.4},{"r":"Hippocampus","g":"G4","v":0.6},{"r":"Hippocampus","g":"G4","v":0.9},
{"r":"Thalamus","g":"G1","v":0.02},{"r":"Thalamus","g":"G1","v":0.08},{"r":"Thalamus","g":"G1","v":0.12},{"r":"Thalamus","g":"G1","v":0.25},{"r":"Thalamus","g":"G2","v":0},{"r":"Thalamus","g":"G2","v":0.02},{"r":"Thalamus","g":"G2","v":0.04},{"r":"Thalamus","g":"G2","v":0.08},{"r":"Thalamus","g":"G3","v":1.85},{"r":"Thalamus","g":"G3","v":2.05},{"r":"Thalamus","g":"G3","v":2.4},{"r":"Thalamus","g":"G3","v":2.8},{"r":"Thalamus","g":"G4","v":0},{"r":"Thalamus","g":"G4","v":0.08},{"r":"Thalamus","g":"G4","v":0.1},{"r":"Thalamus","g":"G4","v":0.2}]},
"hconcat":[
{"title":{"text":"a","fontSize":16,"dx":3,"dy":16},"hconcat":[
{"width":68,"height":660,"view":{"stroke":"#999","strokeWidth":1},"title":{"text":["Genes changes in all three brain regions","(wild-type vs. 5xFAD mice)"],"dx":17,"offset":9,"lineHeight":12},"data":{"name":"h1"},"mark":{"type":"rect","stroke":"#222","strokeWidth":0.6},"encoding":{
"x":{"field":"c","type":"ordinal","sort":null,"title":null,"scale":{"domain":[1,2,3,4,5,6,7,8,9]},"axis":{"labelAngle":-90,"labelAlign":"right","labelBaseline":"middle","ticks":false,"domain":false,"labelFontSize":6.5,"labelColor":"#444","labelPadding":3,"labelExpr":"['5xFAD vs. WT in Cortex','5xFAD vs. WT in Hip','5xFAD vs. WT inThal','5xFAD + PLX5622 vs. 5xFAD in Cortex','5xFAD + PLX5622 vs. 5xFAD in Hip','5xFAD + PLX5622 vs. 5xFAD in Thal','PLX5622 vs. WT in Cortex','PLX5622 vs. WT in Hip','PLX5622 vs. WT in Thal'][datum.value-1]"}},
"y":{"field":"g","type":"nominal","sort":null,"title":null,"axis":{"ticks":false,"domain":false,"offset":0,"labelFontSize":6,"labelColor":"#333","labelPadding":3}},
"color":{"field":"v","type":"quantitative","scale":{"domain":[-7,0,7],"range":["#0000ff","#ffffff","#ff0000"],"interpolate":"rgb"},"legend":{"orient":"none","legendX":31,"legendY":803,"direction":"horizontal","gradientLength":119,"gradientThickness":9,"values":[-5,0,5],"title":"log(2) fold change","titleOrient":"bottom","titleAnchor":"middle","titleFontWeight":"normal","titleFontSize":9.5,"titleColor":"#333","labelFontSize":9,"labelColor":"#333","gradientStrokeColor":"#888","gradientStrokeWidth":1}}}},
{"width":68,"height":660,"view":{"stroke":"#999","strokeWidth":1},"data":{"name":"h2"},"mark":{"type":"rect","stroke":"#222","strokeWidth":0.6},"encoding":{
"x":{"field":"c","type":"ordinal","sort":null,"title":null,"scale":{"domain":[1,2,3,4,5,6,7,8,9]},"axis":{"labelAngle":-90,"labelAlign":"right","labelBaseline":"middle","ticks":false,"domain":false,"labelFontSize":6.5,"labelColor":"#444","labelPadding":3,"labelExpr":"['5xFAD vs. WT in Cortex','5xFAD vs. WT in Hip','5xFAD vs. WT in Thal','5xFAD + PLX5622 vs. 5xFAD in Cortex','5xFAD + PLX5622 vs. 5xFAD in Hip','5xFAD + PLX5622 vs. 5xFAD in Thal','PLX5622 vs. WT in Cortex','PLX5622 vs. WT in Hip','PLX5622 vs. WT in Thal'][datum.value-1]"}},
"y":{"field":"g","type":"nominal","sort":null,"title":null,"axis":{"ticks":false,"domain":false,"offset":0,"labelFontSize":6,"labelColor":"#333","labelPadding":3}},
"color":{"field":"v","type":"quantitative"}}}
],"spacing":43.5,"bounds":"flush"},
{"spacing":18,"resolve":{"scale":{"fill":"independent"},"legend":{"fill":"independent"}},"vconcat":[
{"title":{"text":"b","fontSize":16,"dx":-6,"dy":20},"columns":2,"spacing":{"row":30.5,"column":40},"bounds":"flush","concat":[
{"width":190,"height":112,"title":{"text":"Microglial homeostatic genes","dx":56.5,"offset":23},"data":{"name":"Csf1r"},"encoding":{"x":{"field":"r","type":"nominal","title":null},"xOffset":{"field":"g"}},"layer":[{"mark":"bar","encoding":{"y":{"field":"m","type":"quantitative","scale":{"domain":[0,50]},"axis":{"title":"Csf1r RPKM","values":[0,10,20,30,40,50]}},"fill":{"field":"g","title":null,"legend":{"labelExpr":"{G1:'Wild-type',G2:'Wild-type + PLX5622',G3:'5xFAD',G4:'5xFAD + PLX5622'}[datum.label]"}}}},{"mark":"point","encoding":{"y":{"field":"v","type":"quantitative","axis":{"values":[0,10,20,30,40,50]}},"shape":{"field":"g","legend":null},"stroke":{"field":"g","type":"ordinal","legend":null}}},{"mark":"rule","encoding":{"y":{"field":"lo","type":"quantitative","axis":{"values":[0,10,20,30,40,50]}},"y2":{"field":"hi"}}},{"mark":"tick","encoding":{"y":{"field":"lo","type":"quantitative","axis":{"values":[0,10,20,30,40,50]}}}},{"mark":"tick","encoding":{"y":{"field":"hi","type":"quantitative","axis":{"values":[0,10,20,30,40,50]}}}}]},
{"width":190,"height":112,"data":{"name":"Cx3cr1"},"encoding":{"x":{"field":"r","type":"nominal","title":null},"xOffset":{"field":"g"}},"layer":[{"mark":"bar","encoding":{"y":{"field":"m","type":"quantitative","scale":{"domain":[0,25]},"axis":{"title":"Cx3cr1 RPKM","values":[0,5,10,15,20,25]}},"fill":{"field":"g","title":null}}},{"mark":"point","encoding":{"y":{"field":"v","type":"quantitative","axis":{"values":[0,5,10,15,20,25]}},"shape":{"field":"g","legend":null},"stroke":{"field":"g","type":"ordinal","legend":null}}},{"mark":"rule","encoding":{"y":{"field":"lo","type":"quantitative","axis":{"values":[0,5,10,15,20,25]}},"y2":{"field":"hi"}}},{"mark":"tick","encoding":{"y":{"field":"lo","type":"quantitative","axis":{"values":[0,5,10,15,20,25]}}}},{"mark":"tick","encoding":{"y":{"field":"hi","type":"quantitative","axis":{"values":[0,5,10,15,20,25]}}}}]},
{"width":190,"height":112,"data":{"name":"C1qa"},"encoding":{"x":{"field":"r","type":"nominal","title":null},"xOffset":{"field":"g"}},"layer":[{"mark":"bar","encoding":{"y":{"field":"m","type":"quantitative","scale":{"domain":[0,80]},"axis":{"title":"C1qa RPKM","values":[0,20,40,60,80]}},"fill":{"field":"g","title":null}}},{"mark":"point","encoding":{"y":{"field":"v","type":"quantitative","axis":{"values":[0,20,40,60,80]}},"shape":{"field":"g","legend":null},"stroke":{"field":"g","type":"ordinal","legend":null}}},{"mark":"rule","encoding":{"y":{"field":"lo","type":"quantitative","axis":{"values":[0,20,40,60,80]}},"y2":{"field":"hi"}}},{"mark":"tick","encoding":{"y":{"field":"lo","type":"quantitative","axis":{"values":[0,20,40,60,80]}}}},{"mark":"tick","encoding":{"y":{"field":"hi","type":"quantitative","axis":{"values":[0,20,40,60,80]}}}}]},
{"width":190,"height":112,"data":{"name":"Hexb"},"encoding":{"x":{"field":"r","type":"nominal","title":null},"xOffset":{"field":"g"}},"layer":[{"mark":"bar","encoding":{"y":{"field":"m","type":"quantitative","scale":{"domain":[0,150]},"axis":{"title":"Hexb RPKM","values":[0,50,100,150]}},"fill":{"field":"g","title":null}}},{"mark":"point","encoding":{"y":{"field":"v","type":"quantitative","axis":{"values":[0,50,100,150]}},"shape":{"field":"g","legend":null},"stroke":{"field":"g","type":"ordinal","legend":null}}},{"mark":"rule","encoding":{"y":{"field":"lo","type":"quantitative","axis":{"values":[0,50,100,150]}},"y2":{"field":"hi"}}},{"mark":"tick","encoding":{"y":{"field":"lo","type":"quantitative","axis":{"values":[0,50,100,150]}}}},{"mark":"tick","encoding":{"y":{"field":"hi","type":"quantitative","axis":{"values":[0,50,100,150]}}}}]},
{"width":190,"height":112,"data":{"name":"Siglech"},"encoding":{"x":{"field":"r","type":"nominal","title":null},"xOffset":{"field":"g"}},"layer":[{"mark":"bar","encoding":{"y":{"field":"m","type":"quantitative","scale":{"domain":[0,10]},"axis":{"title":"Siglech RPKM","values":[0,2,4,6,8,10]}},"fill":{"field":"g","title":null}}},{"mark":"point","encoding":{"y":{"field":"v","type":"quantitative","axis":{"values":[0,2,4,6,8,10]}},"shape":{"field":"g","legend":null},"stroke":{"field":"g","type":"ordinal","legend":null}}},{"mark":"rule","encoding":{"y":{"field":"lo","type":"quantitative","axis":{"values":[0,2,4,6,8,10]}},"y2":{"field":"hi"}}},{"mark":"tick","encoding":{"y":{"field":"lo","type":"quantitative","axis":{"values":[0,2,4,6,8,10]}}}},{"mark":"tick","encoding":{"y":{"field":"hi","type":"quantitative","axis":{"values":[0,2,4,6,8,10]}}}}]},
{"width":190,"height":112,"data":{"name":"Spi1"},"encoding":{"x":{"field":"r","type":"nominal","title":null},"xOffset":{"field":"g"}},"layer":[{"mark":"bar","encoding":{"y":{"field":"m","type":"quantitative","scale":{"domain":[0,4]},"axis":{"title":"Spi1 RPKM","values":[0,1,2,3,4]}},"fill":{"field":"g","title":null}}},{"mark":"point","encoding":{"y":{"field":"v","type":"quantitative","axis":{"values":[0,1,2,3,4]}},"shape":{"field":"g","legend":null},"stroke":{"field":"g","type":"ordinal","legend":null}}},{"mark":"rule","encoding":{"y":{"field":"lo","type":"quantitative","axis":{"values":[0,1,2,3,4]}},"y2":{"field":"hi"}}},{"mark":"tick","encoding":{"y":{"field":"lo","type":"quantitative","axis":{"values":[0,1,2,3,4]}}}},{"mark":"tick","encoding":{"y":{"field":"hi","type":"quantitative","axis":{"values":[0,1,2,3,4]}}}}]}
]},
{"title":{"text":"c","fontSize":16,"dx":-6,"dy":20},"columns":2,"spacing":{"row":32,"column":40},"bounds":"flush","concat":[
{"width":190,"height":112,"title":{"text":"Disease-associated microglial genes","dx":36,"offset":29},"data":{"name":"Ccl6"},"encoding":{"x":{"field":"r","type":"nominal","title":null},"xOffset":{"field":"g"}},"layer":[{"mark":"bar","encoding":{"y":{"field":"m","type":"quantitative","scale":{"domain":[0,10]},"axis":{"title":"Ccl6 RPKM","values":[0,2,4,6,8,10]}},"fill":{"field":"g","title":null,"legend":{"legendX":183.5,"legendY":-46,"labelExpr":"{G1:'Wild-type',G2:'Wild-type + PLX5622',G3:'5xFAD',G4:'5xFAD + PLX5622'}[datum.label]"}}}},{"mark":"point","encoding":{"y":{"field":"v","type":"quantitative","axis":{"values":[0,2,4,6,8,10]}},"shape":{"field":"g","legend":null},"stroke":{"field":"g","type":"ordinal","legend":null}}},{"mark":"rule","encoding":{"y":{"field":"lo","type":"quantitative","axis":{"values":[0,2,4,6,8,10]}},"y2":{"field":"hi"}}},{"mark":"tick","encoding":{"y":{"field":"lo","type":"quantitative","axis":{"values":[0,2,4,6,8,10]}}}},{"mark":"tick","encoding":{"y":{"field":"hi","type":"quantitative","axis":{"values":[0,2,4,6,8,10]}}}}]},
{"width":190,"height":112,"data":{"name":"Clec7a"},"encoding":{"x":{"field":"r","type":"nominal","title":null},"xOffset":{"field":"g"}},"layer":[{"mark":"bar","encoding":{"y":{"field":"m","type":"quantitative","scale":{"domain":[0,8]},"axis":{"title":"Clec7 aRPKM","values":[0,2,4,6,8]}},"fill":{"field":"g","title":null}}},{"mark":"point","encoding":{"y":{"field":"v","type":"quantitative","axis":{"values":[0,2,4,6,8]}},"shape":{"field":"g","legend":null},"stroke":{"field":"g","type":"ordinal","legend":null}}},{"mark":"rule","encoding":{"y":{"field":"lo","type":"quantitative","axis":{"values":[0,2,4,6,8]}},"y2":{"field":"hi"}}},{"mark":"tick","encoding":{"y":{"field":"lo","type":"quantitative","axis":{"values":[0,2,4,6,8]}}}},{"mark":"tick","encoding":{"y":{"field":"hi","type":"quantitative","axis":{"values":[0,2,4,6,8]}}}}]},
{"width":190,"height":112,"data":{"name":"Cst7"},"encoding":{"x":{"field":"r","type":"nominal","title":null},"xOffset":{"field":"g"}},"layer":[{"mark":"bar","encoding":{"y":{"field":"m","type":"quantitative","scale":{"domain":[0,40]},"axis":{"title":"Cst7 RPKM","values":[0,10,20,30,40]}},"fill":{"field":"g","title":null}}},{"mark":"point","encoding":{"y":{"field":"v","type":"quantitative","axis":{"values":[0,10,20,30,40]}},"shape":{"field":"g","legend":null},"stroke":{"field":"g","type":"ordinal","legend":null}}},{"mark":"rule","encoding":{"y":{"field":"lo","type":"quantitative","axis":{"values":[0,10,20,30,40]}},"y2":{"field":"hi"}}},{"mark":"tick","encoding":{"y":{"field":"lo","type":"quantitative","axis":{"values":[0,10,20,30,40]}}}},{"mark":"tick","encoding":{"y":{"field":"hi","type":"quantitative","axis":{"values":[0,10,20,30,40]}}}}]},
{"width":190,"height":112,"data":{"name":"Ctsd"},"encoding":{"x":{"field":"r","type":"nominal","title":null},"xOffset":{"field":"g"}},"layer":[{"mark":"bar","encoding":{"y":{"field":"m","type":"quantitative","scale":{"domain":[0,500]},"axis":{"title":"Ctsd RPKM","values":[0,100,200,300,400,500]}},"fill":{"field":"g","title":null}}},{"mark":"point","encoding":{"y":{"field":"v","type":"quantitative","axis":{"values":[0,100,200,300,400,500]}},"shape":{"field":"g","legend":null},"stroke":{"field":"g","type":"ordinal","legend":null}}},{"mark":"rule","encoding":{"y":{"field":"lo","type":"quantitative","axis":{"values":[0,100,200,300,400,500]}},"y2":{"field":"hi"}}},{"mark":"tick","encoding":{"y":{"field":"lo","type":"quantitative","axis":{"values":[0,100,200,300,400,500]}}}},{"mark":"tick","encoding":{"y":{"field":"hi","type":"quantitative","axis":{"values":[0,100,200,300,400,500]}}}}]},
{"width":190,"height":112,"data":{"name":"Ctsz"},"encoding":{"x":{"field":"r","type":"nominal","title":null},"xOffset":{"field":"g"}},"layer":[{"mark":"bar","encoding":{"y":{"field":"m","type":"quantitative","scale":{"domain":[0,60]},"axis":{"title":"Ctsz RPKM","values":[0,20,40,60]}},"fill":{"field":"g","title":null}}},{"mark":"point","encoding":{"y":{"field":"v","type":"quantitative","axis":{"values":[0,20,40,60]}},"shape":{"field":"g","legend":null},"stroke":{"field":"g","type":"ordinal","legend":null}}},{"mark":"rule","encoding":{"y":{"field":"lo","type":"quantitative","axis":{"values":[0,20,40,60]}},"y2":{"field":"hi"}}},{"mark":"tick","encoding":{"y":{"field":"lo","type":"quantitative","axis":{"values":[0,20,40,60]}}}},{"mark":"tick","encoding":{"y":{"field":"hi","type":"quantitative","axis":{"values":[0,20,40,60]}}}}]},
{"width":190,"height":112,"data":{"name":"Itgax"},"encoding":{"x":{"field":"r","type":"nominal","title":null},"xOffset":{"field":"g"}},"layer":[{"mark":"bar","encoding":{"y":{"field":"m","type":"quantitative","scale":{"domain":[0,5]},"axis":{"title":"Itgax RPKM","values":[0,1,2,3,4,5]}},"fill":{"field":"g","title":null}}},{"mark":"point","encoding":{"y":{"field":"v","type":"quantitative","axis":{"values":[0,1,2,3,4,5]}},"shape":{"field":"g","legend":null},"stroke":{"field":"g","type":"ordinal","legend":null}}},{"mark":"rule","encoding":{"y":{"field":"lo","type":"quantitative","axis":{"values":[0,1,2,3,4,5]}},"y2":{"field":"hi"}}},{"mark":"tick","encoding":{"y":{"field":"lo","type":"quantitative","axis":{"values":[0,1,2,3,4,5]}}}},{"mark":"tick","encoding":{"y":{"field":"hi","type":"quantitative","axis":{"values":[0,1,2,3,4,5]}}}}]}
]}
]}
],"spacing":22.5}
